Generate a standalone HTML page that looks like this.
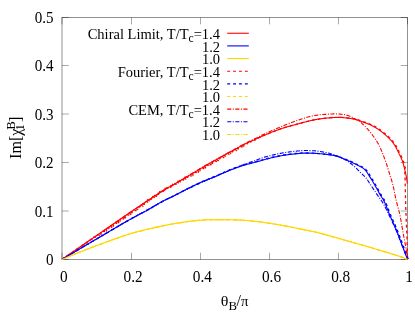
<!DOCTYPE html>
<html><head><meta charset="utf-8"><title>chart</title>
<style>html,body{margin:0;padding:0;background:#fff;}body{width:415px;height:312px;overflow:hidden;position:relative;font-family:"Liberation Serif",serif;}</style>
</head><body>
<svg width="415" height="312" viewBox="0 0 415 312" style="position:absolute;left:0;top:0;will-change:transform">
<rect x="0" y="0" width="415" height="312" fill="#fff"/>
<g stroke="#000" stroke-width="0.5" fill="none">
<rect x="62.0" y="17.5" width="345.5" height="242.0" stroke-opacity="0.85"/>
<path d="M62.0,259.50 h6.8 M407.5,259.50 h-6.8" stroke-opacity="0.68"/>
<path d="M62.00,259.5 v-6.8 M62.00,17.5 v6.8" stroke-opacity="0.68"/>
<path d="M62.0,211.00 h6.8 M407.5,211.00 h-6.8" stroke-opacity="0.68"/>
<path d="M131.50,259.5 v-6.8 M131.50,17.5 v6.8" stroke-opacity="0.68"/>
<path d="M62.0,162.50 h6.8 M407.5,162.50 h-6.8" stroke-opacity="0.68"/>
<path d="M200.50,259.5 v-6.8 M200.50,17.5 v6.8" stroke-opacity="0.68"/>
<path d="M62.0,114.00 h6.8 M407.5,114.00 h-6.8" stroke-opacity="0.68"/>
<path d="M269.50,259.5 v-6.8 M269.50,17.5 v6.8" stroke-opacity="0.68"/>
<path d="M62.0,65.50 h6.8 M407.5,65.50 h-6.8" stroke-opacity="0.68"/>
<path d="M338.50,259.5 v-6.8 M338.50,17.5 v6.8" stroke-opacity="0.68"/>
<path d="M62.0,17.50 h6.8 M407.5,17.50 h-6.8" stroke-opacity="0.68"/>
<path d="M407.50,259.5 v-6.8 M407.50,17.5 v6.8" stroke-opacity="0.68"/>
</g>
<g fill="none" stroke-width="1.1" stroke-linejoin="round">
<path d="M62.00,259.40 L62.23,259.24 L62.46,259.08 L62.69,258.92 L62.92,258.76 L63.15,258.61 L63.39,258.45 L63.62,258.29 L63.85,258.13 L64.08,257.97 L64.31,257.81 L64.54,257.65 L64.77,257.49 L65.00,257.33 L65.23,257.17 L65.46,257.01 L65.69,256.86 L65.93,256.70 L66.16,256.54 L66.39,256.38 L66.62,256.22 L66.85,256.06 L67.08,255.90 L67.31,255.74 L67.54,255.58 L67.77,255.42 L68.00,255.27 L68.23,255.11 L68.47,254.95 L68.70,254.79 L68.93,254.63 L69.16,254.47 L69.39,254.31 L69.62,254.15 L69.85,253.99 L70.08,253.83 L70.31,253.68 L70.54,253.52 L70.77,253.36 L71.00,253.20 L71.24,253.04 L71.47,252.88 L71.70,252.72 L71.93,252.56 L72.16,252.40 L72.39,252.24 L72.62,252.09 L72.85,251.93 L73.08,251.77 L73.31,251.61 L73.54,251.45 L73.78,251.29 L74.01,251.13 L74.24,250.97 L74.47,250.81 L74.70,250.65 L74.93,250.50 L75.16,250.34 L75.39,250.18 L75.62,250.02 L75.85,249.86 L76.08,249.70 L76.32,249.54 L76.55,249.38 L76.78,249.22 L77.01,249.06 L77.24,248.90 L77.47,248.75 L77.70,248.59 L77.93,248.43 L78.16,248.27 L78.39,248.11 L78.62,247.95 L78.85,247.79 L79.09,247.63 L79.32,247.47 L79.55,247.31 L79.78,247.16 L80.01,247.00 L80.24,246.84 L80.47,246.68 L80.70,246.52 L80.93,246.36 L81.16,246.20 L81.39,246.04 L81.63,245.88 L81.86,245.72 L82.09,245.56 L82.32,245.41 L82.55,245.25 L82.78,245.09 L83.01,244.93 L83.24,244.77 L83.47,244.61 L83.70,244.45 L83.93,244.29 L84.16,244.13 L84.40,243.97 L84.63,243.82 L84.86,243.66 L85.09,243.50 L85.32,243.34 L85.55,243.18 L85.78,243.02 L86.01,242.86 L86.24,242.70 L86.47,242.54 L86.70,242.38 L86.94,242.22 L87.17,242.07 L87.40,241.91 L87.63,241.75 L87.86,241.59 L88.09,241.43 L88.32,241.27 L88.55,241.11 L88.78,240.95 L89.01,240.79 L89.24,240.63 L89.47,240.48 L89.71,240.32 L89.94,240.16 L90.17,240.00 L90.40,239.84 L90.63,239.68 L90.86,239.52 L91.09,239.36 L91.32,239.20 L91.55,239.04 L91.78,238.88 L92.01,238.73 L92.24,238.57 L92.48,238.41 L92.71,238.25 L92.94,238.09 L93.17,237.93 L93.40,237.77 L93.63,237.61 L93.86,237.45 L94.09,237.29 L94.32,237.13 L94.55,236.98 L94.78,236.82 L95.02,236.66 L95.25,236.50 L95.48,236.34 L95.71,236.18 L95.94,236.02 L96.17,235.86 L96.40,235.70 L96.63,235.54 L96.86,235.38 L97.09,235.23 L97.32,235.07 L97.55,234.91 L97.79,234.75 L98.02,234.59 L98.25,234.43 L98.48,234.27 L98.71,234.11 L98.94,233.95 L99.17,233.79 L99.40,233.63 L99.63,233.47 L99.86,233.32 L100.09,233.16 L100.32,233.00 L100.55,232.84 L100.78,232.68 L101.02,232.52 L101.25,232.36 L101.48,232.20 L101.71,232.04 L101.94,231.88 L102.17,231.72 L102.40,231.56 L102.63,231.40 L102.86,231.24 L103.09,231.08 L103.32,230.92 L103.55,230.76 L103.78,230.60 L104.01,230.45 L104.24,230.29 L104.47,230.13 L104.70,229.97 L104.93,229.81 L105.17,229.65 L105.40,229.49 L105.63,229.33 L105.86,229.17 L106.09,229.01 L106.32,228.85 L106.55,228.69 L106.78,228.53 L107.01,228.37 L107.24,228.21 L107.47,228.05 L107.70,227.89 L107.93,227.73 L108.16,227.57 L108.39,227.41 L108.62,227.25 L108.85,227.09 L109.08,226.93 L109.31,226.77 L109.54,226.61 L109.77,226.45 L110.00,226.29 L110.23,226.13 L110.46,225.97 L110.70,225.81 L110.93,225.65 L111.16,225.49 L111.39,225.33 L111.62,225.17 L111.85,225.01 L112.08,224.85 L112.31,224.70 L112.54,224.54 L112.77,224.38 L113.00,224.22 L113.23,224.06 L113.46,223.90 L113.69,223.74 L113.92,223.58 L114.15,223.42 L114.38,223.26 L114.61,223.10 L114.84,222.94 L115.07,222.78 L115.30,222.62 L115.53,222.46 L115.76,222.30 L115.99,222.14 L116.22,221.98 L116.46,221.82 L116.69,221.66 L116.92,221.50 L117.15,221.34 L117.38,221.18 L117.61,221.02 L117.84,220.86 L118.07,220.70 L118.30,220.54 L118.53,220.38 L118.76,220.22 L118.99,220.07 L119.22,219.91 L119.45,219.75 L119.68,219.59 L119.91,219.43 L120.14,219.27 L120.37,219.11 L120.61,218.95 L120.84,218.79 L121.07,218.63 L121.30,218.47 L121.53,218.31 L121.76,218.15 L121.99,217.99 L122.22,217.83 L122.45,217.67 L122.68,217.52 L122.91,217.36 L123.14,217.20 L123.37,217.04 L123.61,216.88 L123.84,216.72 L124.07,216.56 L124.30,216.40 L124.53,216.24 L124.76,216.08 L124.99,215.93 L125.22,215.77 L125.45,215.61 L125.68,215.45 L125.91,215.29 L126.15,215.13 L126.38,214.97 L126.61,214.81 L126.84,214.66 L127.07,214.50 L127.30,214.34 L127.53,214.18 L127.76,214.02 L127.99,213.86 L128.23,213.70 L128.46,213.55 L128.69,213.39 L128.92,213.23 L129.15,213.07 L129.38,212.91 L129.61,212.75 L129.85,212.60 L130.08,212.44 L130.31,212.28 L130.54,212.12 L130.77,211.96 L131.00,211.81 L131.23,211.65 L131.47,211.49 L131.70,211.33 L131.93,211.17 L132.16,211.02 L132.39,210.86 L132.62,210.70 L132.86,210.54 L133.09,210.38 L133.32,210.23 L133.55,210.07 L133.78,209.91 L134.02,209.75 L134.25,209.60 L134.48,209.44 L134.71,209.28 L134.94,209.13 L135.18,208.97 L135.41,208.81 L135.64,208.65 L135.87,208.50 L136.11,208.34 L136.34,208.18 L136.57,208.03 L136.80,207.87 L137.04,207.71 L137.27,207.56 L137.50,207.40 L137.73,207.25 L137.97,207.09 L138.20,206.93 L138.43,206.78 L138.67,206.62 L138.90,206.46 L139.13,206.31 L139.36,206.15 L139.60,206.00 L139.83,205.84 L140.06,205.69 L140.30,205.53 L140.53,205.37 L140.76,205.22 L141.00,205.06 L141.23,204.91 L141.46,204.75 L141.70,204.60 L141.93,204.44 L142.16,204.29 L142.40,204.13 L142.63,203.97 L142.86,203.82 L143.10,203.66 L143.33,203.51 L143.56,203.35 L143.80,203.20 L144.03,203.04 L144.26,202.89 L144.49,202.73 L144.73,202.57 L144.96,202.42 L145.19,202.26 L145.43,202.11 L145.66,201.95 L145.89,201.80 L146.13,201.64 L146.36,201.48 L146.59,201.33 L146.83,201.17 L147.06,201.02 L147.29,200.86 L147.53,200.71 L147.76,200.55 L147.99,200.39 L148.23,200.24 L148.46,200.08 L148.69,199.93 L148.92,199.77 L149.16,199.62 L149.39,199.46 L149.62,199.31 L149.86,199.15 L150.09,198.99 L150.32,198.84 L150.56,198.68 L150.79,198.53 L151.02,198.37 L151.26,198.22 L151.49,198.06 L151.72,197.91 L151.96,197.75 L152.19,197.60 L152.43,197.44 L152.66,197.29 L152.89,197.13 L153.13,196.98 L153.36,196.82 L153.59,196.67 L153.83,196.51 L154.06,196.36 L154.30,196.20 L154.53,196.05 L154.76,195.89 L155.00,195.74 L155.23,195.58 L155.46,195.43 L155.70,195.27 L155.93,195.11 L156.16,194.96 L156.39,194.80 L156.63,194.64 L156.86,194.49 L157.09,194.33 L157.32,194.17 L157.56,194.01 L157.79,193.86 L158.02,193.70 L158.25,193.54 L158.49,193.39 L158.72,193.23 L158.95,193.07 L159.19,192.92 L159.42,192.76 L159.65,192.61 L159.89,192.45 L160.12,192.30 L160.35,192.14 L160.59,191.99 L160.82,191.83 L161.06,191.68 L161.29,191.53 L161.53,191.38 L161.77,191.23 L162.00,191.08 L162.24,190.93 L162.47,190.78 L162.71,190.63 L162.95,190.48 L163.19,190.33 L163.43,190.19 L163.67,190.04 L163.91,189.90 L164.15,189.75 L164.39,189.61 L164.63,189.47 L164.87,189.33 L165.11,189.19 L165.35,189.05 L165.60,188.91 L165.84,188.77 L166.09,188.64 L166.33,188.50 L166.58,188.36 L166.82,188.23 L167.07,188.09 L167.31,187.96 L167.56,187.83 L167.81,187.69 L168.05,187.56 L168.30,187.43 L168.55,187.29 L168.79,187.16 L169.04,187.03 L169.29,186.90 L169.54,186.77 L169.79,186.63 L170.03,186.50 L170.28,186.37 L170.53,186.24 L170.78,186.11 L171.02,185.98 L171.27,185.84 L171.52,185.71 L171.77,185.58 L172.01,185.45 L172.26,185.31 L172.51,185.18 L172.76,185.05 L173.00,184.91 L173.25,184.78 L173.49,184.64 L173.74,184.51 L173.99,184.37 L174.23,184.24 L174.47,184.10 L174.72,183.96 L174.96,183.82 L175.21,183.68 L175.45,183.54 L175.69,183.40 L175.93,183.26 L176.18,183.12 L176.42,182.98 L176.66,182.84 L176.90,182.70 L177.14,182.56 L177.39,182.41 L177.63,182.27 L177.87,182.13 L178.11,181.99 L178.35,181.84 L178.59,181.70 L178.83,181.56 L179.07,181.41 L179.31,181.27 L179.55,181.12 L179.79,180.98 L180.04,180.84 L180.28,180.69 L180.52,180.55 L180.76,180.40 L181.00,180.26 L181.24,180.11 L181.48,179.97 L181.72,179.82 L181.96,179.68 L182.20,179.54 L182.44,179.39 L182.68,179.25 L182.92,179.10 L183.16,178.96 L183.40,178.81 L183.64,178.67 L183.88,178.53 L184.12,178.38 L184.36,178.24 L184.60,178.10 L184.85,177.95 L185.09,177.81 L185.33,177.67 L185.57,177.53 L185.81,177.38 L186.05,177.24 L186.29,177.10 L186.53,176.95 L186.78,176.81 L187.02,176.67 L187.26,176.53 L187.50,176.38 L187.74,176.24 L187.98,176.10 L188.22,175.95 L188.46,175.81 L188.71,175.67 L188.95,175.53 L189.19,175.38 L189.43,175.24 L189.67,175.10 L189.91,174.95 L190.15,174.81 L190.39,174.67 L190.64,174.53 L190.88,174.38 L191.12,174.24 L191.36,174.10 L191.60,173.95 L191.84,173.81 L192.08,173.67 L192.32,173.53 L192.56,173.38 L192.81,173.24 L193.05,173.10 L193.29,172.95 L193.53,172.81 L193.77,172.67 L194.01,172.52 L194.25,172.38 L194.49,172.24 L194.73,172.09 L194.97,171.95 L195.21,171.80 L195.45,171.66 L195.69,171.51 L195.94,171.37 L196.18,171.23 L196.42,171.08 L196.66,170.94 L196.90,170.79 L197.14,170.65 L197.38,170.50 L197.62,170.36 L197.86,170.21 L198.10,170.07 L198.34,169.92 L198.58,169.78 L198.82,169.63 L199.06,169.49 L199.30,169.34 L199.54,169.20 L199.78,169.05 L200.02,168.91 L200.26,168.76 L200.50,168.62 L200.74,168.47 L200.98,168.33 L201.22,168.19 L201.46,168.04 L201.70,167.90 L201.94,167.76 L202.18,167.61 L202.42,167.47 L202.66,167.33 L202.90,167.18 L203.15,167.04 L203.39,166.90 L203.63,166.76 L203.87,166.62 L204.11,166.48 L204.36,166.33 L204.60,166.19 L204.84,166.05 L205.08,165.91 L205.33,165.77 L205.57,165.63 L205.81,165.49 L206.06,165.35 L206.30,165.21 L206.54,165.08 L206.79,164.94 L207.03,164.80 L207.27,164.66 L207.52,164.52 L207.76,164.38 L208.00,164.24 L208.25,164.10 L208.49,163.97 L208.74,163.83 L208.98,163.69 L209.22,163.55 L209.47,163.41 L209.71,163.28 L209.96,163.14 L210.20,163.00 L210.45,162.86 L210.69,162.73 L210.93,162.59 L211.18,162.45 L211.42,162.31 L211.67,162.18 L211.91,162.04 L212.16,161.90 L212.40,161.76 L212.64,161.63 L212.89,161.49 L213.13,161.35 L213.38,161.21 L213.62,161.08 L213.87,160.94 L214.11,160.80 L214.35,160.66 L214.60,160.53 L214.84,160.39 L215.09,160.25 L215.33,160.11 L215.58,159.97 L215.82,159.84 L216.06,159.70 L216.31,159.56 L216.55,159.42 L216.79,159.28 L217.04,159.14 L217.28,159.01 L217.53,158.87 L217.77,158.73 L218.01,158.59 L218.26,158.45 L218.50,158.31 L218.74,158.17 L218.99,158.04 L219.23,157.90 L219.48,157.76 L219.72,157.62 L219.96,157.48 L220.21,157.34 L220.45,157.21 L220.70,157.07 L220.94,156.93 L221.18,156.79 L221.43,156.66 L221.67,156.52 L221.92,156.38 L222.16,156.25 L222.41,156.11 L222.65,155.97 L222.90,155.84 L223.14,155.70 L223.39,155.56 L223.63,155.43 L223.88,155.29 L224.13,155.16 L224.37,155.02 L224.62,154.89 L224.86,154.76 L225.11,154.62 L225.36,154.49 L225.60,154.36 L225.85,154.23 L226.10,154.09 L226.35,153.96 L226.59,153.83 L226.84,153.70 L227.09,153.57 L227.34,153.44 L227.58,153.31 L227.83,153.18 L228.08,153.04 L228.33,152.91 L228.58,152.78 L228.83,152.65 L229.07,152.52 L229.32,152.39 L229.57,152.26 L229.82,152.13 L230.07,152.00 L230.32,151.87 L230.56,151.74 L230.81,151.61 L231.06,151.48 L231.31,151.35 L231.56,151.22 L231.81,151.09 L232.05,150.96 L232.30,150.83 L232.55,150.70 L232.80,150.57 L233.04,150.44 L233.29,150.30 L233.54,150.17 L233.79,150.04 L234.03,149.91 L234.28,149.77 L234.52,149.64 L234.77,149.50 L235.02,149.37 L235.26,149.23 L235.51,149.10 L235.75,148.96 L236.00,148.83 L236.24,148.69 L236.49,148.55 L236.73,148.42 L236.98,148.28 L237.23,148.14 L237.47,148.01 L237.72,147.87 L237.96,147.74 L238.21,147.60 L238.45,147.46 L238.70,147.33 L238.94,147.19 L239.19,147.06 L239.43,146.92 L239.68,146.78 L239.92,146.65 L240.17,146.52 L240.42,146.38 L240.66,146.25 L240.91,146.11 L241.16,145.98 L241.40,145.85 L241.65,145.72 L241.90,145.58 L242.15,145.45 L242.39,145.32 L242.64,145.19 L242.89,145.06 L243.14,144.94 L243.39,144.81 L243.64,144.68 L243.89,144.56 L244.14,144.43 L244.39,144.31 L244.64,144.18 L244.89,144.06 L245.14,143.94 L245.40,143.81 L245.65,143.69 L245.90,143.57 L246.15,143.45 L246.41,143.33 L246.66,143.21 L246.91,143.09 L247.17,142.97 L247.42,142.85 L247.67,142.73 L247.93,142.61 L248.18,142.49 L248.44,142.38 L248.69,142.26 L248.95,142.14 L249.20,142.03 L249.46,141.91 L249.71,141.79 L249.97,141.68 L250.22,141.56 L250.48,141.44 L250.73,141.33 L250.99,141.21 L251.24,141.10 L251.50,140.98 L251.76,140.87 L252.01,140.75 L252.27,140.64 L252.52,140.52 L252.78,140.41 L253.03,140.29 L253.29,140.17 L253.55,140.06 L253.80,139.94 L254.06,139.83 L254.31,139.71 L254.57,139.60 L254.82,139.48 L255.08,139.36 L255.33,139.25 L255.59,139.13 L255.84,139.02 L256.10,138.90 L256.35,138.78 L256.61,138.67 L256.86,138.55 L257.12,138.43 L257.37,138.32 L257.63,138.20 L257.88,138.08 L258.14,137.97 L258.39,137.85 L258.65,137.73 L258.90,137.62 L259.16,137.50 L259.41,137.39 L259.67,137.27 L259.93,137.16 L260.18,137.04 L260.44,136.92 L260.69,136.81 L260.95,136.70 L261.20,136.58 L261.46,136.47 L261.72,136.35 L261.97,136.24 L262.23,136.13 L262.49,136.01 L262.74,135.90 L263.00,135.79 L263.26,135.68 L263.51,135.57 L263.77,135.45 L264.03,135.34 L264.29,135.23 L264.54,135.12 L264.80,135.01 L265.06,134.91 L265.32,134.80 L265.58,134.69 L265.84,134.58 L266.09,134.47 L266.35,134.36 L266.61,134.26 L266.87,134.15 L267.13,134.04 L267.39,133.93 L267.65,133.83 L267.91,133.72 L268.17,133.61 L268.43,133.51 L268.69,133.40 L268.95,133.30 L269.21,133.19 L269.47,133.09 L269.73,132.98 L269.99,132.88 L270.25,132.77 L270.51,132.67 L270.77,132.57 L271.03,132.46 L271.29,132.36 L271.55,132.26 L271.81,132.15 L272.07,132.05 L272.33,131.95 L272.60,131.85 L272.86,131.75 L273.12,131.65 L273.38,131.55 L273.64,131.45 L273.90,131.35 L274.17,131.25 L274.43,131.15 L274.69,131.05 L274.95,130.95 L275.22,130.86 L275.48,130.76 L275.74,130.66 L276.00,130.56 L276.27,130.46 L276.53,130.36 L276.79,130.27 L277.06,130.17 L277.32,130.07 L277.58,129.98 L277.85,129.88 L278.11,129.78 L278.37,129.69 L278.64,129.59 L278.90,129.50 L279.16,129.40 L279.43,129.31 L279.69,129.21 L279.96,129.12 L280.22,129.03 L280.49,128.93 L280.75,128.84 L281.02,128.75 L281.28,128.66 L281.55,128.57 L281.81,128.48 L282.08,128.39 L282.35,128.30 L282.61,128.21 L282.88,128.13 L283.14,128.04 L283.41,127.95 L283.68,127.87 L283.94,127.79 L284.21,127.70 L284.48,127.62 L284.75,127.54 L285.01,127.46 L285.28,127.38 L285.55,127.30 L285.82,127.22 L286.09,127.14 L286.36,127.06 L286.63,126.98 L286.90,126.90 L287.17,126.83 L287.44,126.75 L287.71,126.68 L287.98,126.60 L288.25,126.52 L288.52,126.45 L288.79,126.37 L289.06,126.30 L289.33,126.23 L289.60,126.15 L289.87,126.08 L290.14,126.01 L290.41,125.93 L290.68,125.86 L290.95,125.79 L291.22,125.71 L291.49,125.64 L291.76,125.57 L292.04,125.50 L292.31,125.42 L292.58,125.35 L292.85,125.28 L293.12,125.21 L293.39,125.13 L293.66,125.06 L293.93,124.99 L294.20,124.92 L294.47,124.84 L294.74,124.77 L295.02,124.70 L295.29,124.62 L295.56,124.55 L295.83,124.48 L296.10,124.40 L296.37,124.33 L296.64,124.26 L296.91,124.18 L297.18,124.11 L297.45,124.04 L297.72,123.96 L297.99,123.89 L298.26,123.82 L298.53,123.74 L298.80,123.67 L299.08,123.60 L299.35,123.53 L299.62,123.46 L299.89,123.38 L300.16,123.31 L300.43,123.24 L300.70,123.17 L300.97,123.10 L301.24,123.03 L301.52,122.95 L301.79,122.88 L302.06,122.81 L302.33,122.74 L302.60,122.67 L302.87,122.60 L303.14,122.53 L303.41,122.46 L303.69,122.39 L303.96,122.32 L304.23,122.25 L304.50,122.19 L304.77,122.12 L305.04,122.05 L305.32,121.98 L305.59,121.91 L305.86,121.84 L306.13,121.77 L306.40,121.70 L306.68,121.63 L306.95,121.56 L307.22,121.49 L307.49,121.41 L307.76,121.34 L308.03,121.27 L308.31,121.20 L308.58,121.13 L308.85,121.06 L309.12,120.99 L309.39,120.93 L309.67,120.86 L309.94,120.79 L310.21,120.72 L310.48,120.66 L310.76,120.59 L311.03,120.52 L311.30,120.46 L311.57,120.40 L311.85,120.33 L312.12,120.27 L312.39,120.21 L312.67,120.15 L312.94,120.10 L313.22,120.04 L313.49,119.98 L313.76,119.93 L314.04,119.88 L314.31,119.82 L314.59,119.77 L314.86,119.72 L315.14,119.67 L315.42,119.63 L315.69,119.58 L315.97,119.53 L316.24,119.48 L316.52,119.43 L316.80,119.39 L317.07,119.34 L317.35,119.29 L317.63,119.25 L317.90,119.20 L318.18,119.16 L318.46,119.12 L318.74,119.07 L319.01,119.03 L319.29,118.99 L319.57,118.95 L319.85,118.91 L320.12,118.87 L320.40,118.83 L320.68,118.79 L320.96,118.75 L321.24,118.71 L321.51,118.68 L321.79,118.64 L322.07,118.61 L322.35,118.57 L322.63,118.54 L322.91,118.51 L323.18,118.47 L323.46,118.44 L323.74,118.41 L324.02,118.38 L324.30,118.35 L324.58,118.32 L324.85,118.29 L325.13,118.27 L325.41,118.24 L325.69,118.21 L325.97,118.18 L326.25,118.15 L326.53,118.12 L326.81,118.09 L327.09,118.06 L327.37,118.04 L327.64,118.01 L327.92,117.98 L328.20,117.96 L328.48,117.93 L328.76,117.90 L329.04,117.88 L329.32,117.85 L329.60,117.83 L329.88,117.81 L330.16,117.78 L330.44,117.76 L330.72,117.74 L331.00,117.72 L331.28,117.70 L331.56,117.68 L331.84,117.66 L332.12,117.64 L332.40,117.62 L332.68,117.60 L332.96,117.59 L333.24,117.57 L333.52,117.56 L333.80,117.55 L334.08,117.53 L334.36,117.52 L334.64,117.51 L334.92,117.50 L335.20,117.49 L335.48,117.49 L335.76,117.48 L336.04,117.47 L336.32,117.46 L336.60,117.45 L336.88,117.45 L337.16,117.44 L337.44,117.43 L337.72,117.43 L338.00,117.42 L338.28,117.42 L338.56,117.41 L338.84,117.41 L339.12,117.40 L339.40,117.40 L339.68,117.40 L339.96,117.40 L340.24,117.40 L340.52,117.41 L340.80,117.42 L341.08,117.44 L341.36,117.45 L341.64,117.48 L341.92,117.50 L342.20,117.53 L342.48,117.56 L342.76,117.59 L343.04,117.62 L343.32,117.65 L343.60,117.69 L343.88,117.72 L344.15,117.75 L344.43,117.78 L344.71,117.81 L344.99,117.84 L345.27,117.87 L345.55,117.90 L345.83,117.93 L346.11,117.96 L346.39,117.99 L346.67,118.02 L346.95,118.06 L347.23,118.09 L347.50,118.12 L347.78,118.15 L348.06,118.19 L348.34,118.22 L348.62,118.26 L348.90,118.29 L349.18,118.33 L349.46,118.37 L349.74,118.40 L350.02,118.44 L350.30,118.48 L350.58,118.52 L350.85,118.56 L351.13,118.60 L351.41,118.65 L351.69,118.69 L351.96,118.73 L352.24,118.78 L352.52,118.83 L352.79,118.87 L353.07,118.92 L353.34,118.97 L353.62,119.02 L353.89,119.08 L354.16,119.13 L354.43,119.18 L354.71,119.24 L354.98,119.30 L355.25,119.36 L355.52,119.42 L355.79,119.49 L356.05,119.57 L356.32,119.65 L356.59,119.74 L356.85,119.83 L357.12,119.92 L357.39,120.01 L357.65,120.11 L357.91,120.21 L358.18,120.31 L358.44,120.41 L358.71,120.51 L358.97,120.60 L359.24,120.70 L359.50,120.80 L359.77,120.89 L360.03,120.98 L360.30,121.07 L360.56,121.16 L360.83,121.25 L361.09,121.35 L361.36,121.44 L361.62,121.53 L361.89,121.62 L362.15,121.72 L362.41,121.81 L362.68,121.90 L362.94,122.00 L363.21,122.09 L363.47,122.19 L363.73,122.28 L364.00,122.38 L364.26,122.47 L364.52,122.57 L364.79,122.67 L365.05,122.77 L365.31,122.86 L365.58,122.96 L365.84,123.06 L366.10,123.15 L366.37,123.25 L366.63,123.35 L366.89,123.45 L367.15,123.55 L367.42,123.65 L367.68,123.75 L367.94,123.85 L368.20,123.96 L368.46,124.06 L368.72,124.17 L368.98,124.28 L369.23,124.38 L369.49,124.50 L369.75,124.61 L370.00,124.72 L370.26,124.84 L370.51,124.96 L370.76,125.08 L371.02,125.20 L371.27,125.32 L371.52,125.44 L371.78,125.57 L372.03,125.69 L372.28,125.82 L372.53,125.95 L372.78,126.08 L373.02,126.21 L373.27,126.34 L373.52,126.47 L373.77,126.61 L374.01,126.74 L374.26,126.88 L374.50,127.01 L374.74,127.15 L374.99,127.29 L375.23,127.43 L375.47,127.57 L375.71,127.71 L375.95,127.86 L376.19,128.01 L376.43,128.15 L376.67,128.30 L376.91,128.45 L377.15,128.60 L377.38,128.75 L377.62,128.91 L377.85,129.06 L378.09,129.21 L378.32,129.37 L378.55,129.53 L378.78,129.68 L379.01,129.84 L379.24,130.00 L379.47,130.16 L379.70,130.32 L379.93,130.49 L380.16,130.65 L380.38,130.82 L380.61,130.98 L380.83,131.15 L381.06,131.32 L381.28,131.49 L381.50,131.66 L381.72,131.84 L381.95,132.01 L382.17,132.18 L382.39,132.36 L382.60,132.53 L382.82,132.71 L383.04,132.89 L383.26,133.07 L383.47,133.24 L383.69,133.42 L383.90,133.60 L384.12,133.78 L384.33,133.96 L384.54,134.15 L384.75,134.33 L384.97,134.51 L385.18,134.70 L385.39,134.88 L385.60,135.07 L385.80,135.26 L386.01,135.45 L386.22,135.64 L386.43,135.83 L386.63,136.02 L386.84,136.21 L387.04,136.40 L387.25,136.59 L387.45,136.79 L387.65,136.98 L387.86,137.18 L388.06,137.37 L388.26,137.57 L388.46,137.76 L388.66,137.96 L388.86,138.15 L389.06,138.35 L389.25,138.55 L389.45,138.75 L389.65,138.95 L389.85,139.15 L390.05,139.35 L390.24,139.55 L390.44,139.75 L390.63,139.95 L390.83,140.16 L391.02,140.36 L391.21,140.57 L391.39,140.78 L391.58,140.99 L391.76,141.20 L391.94,141.41 L392.12,141.63 L392.30,141.84 L392.47,142.06 L392.65,142.28 L392.82,142.50 L392.99,142.73 L393.16,142.95 L393.33,143.18 L393.49,143.41 L393.66,143.64 L393.82,143.87 L393.97,144.10 L394.13,144.33 L394.28,144.57 L394.43,144.80 L394.57,145.04 L394.72,145.28 L394.86,145.51 L395.01,145.75 L395.15,146.00 L395.29,146.24 L395.42,146.48 L395.56,146.73 L395.70,146.97 L395.83,147.22 L395.97,147.46 L396.10,147.71 L396.23,147.96 L396.36,148.21 L396.49,148.46 L396.62,148.71 L396.75,148.96 L396.88,149.21 L397.01,149.46 L397.13,149.71 L397.26,149.96 L397.38,150.21 L397.51,150.47 L397.63,150.72 L397.76,150.97 L397.88,151.22 L398.00,151.48 L398.13,151.73 L398.25,151.98 L398.37,152.23 L398.49,152.48 L398.62,152.74 L398.74,152.99 L398.86,153.24 L398.99,153.49 L399.11,153.74 L399.23,154.00 L399.36,154.25 L399.48,154.50 L399.61,154.75 L399.73,155.01 L399.85,155.26 L399.98,155.51 L400.10,155.77 L400.22,156.02 L400.34,156.27 L400.46,156.53 L400.58,156.78 L400.70,157.04 L400.82,157.29 L400.94,157.55 L401.05,157.80 L401.17,158.06 L401.28,158.32 L401.39,158.57 L401.50,158.83 L401.61,159.09 L401.72,159.35 L401.83,159.61 L401.93,159.87 L402.03,160.13 L402.13,160.39 L402.23,160.65 L402.33,160.91 L402.42,161.17 L402.51,161.44 L402.60,161.70 L402.69,161.96 L402.78,162.23 L402.86,162.49 L402.94,162.76 L403.03,163.03 L403.11,163.30 L403.19,163.57 L403.26,163.84 L403.34,164.11 L403.42,164.38 L403.49,164.65 L403.57,164.92 L403.64,165.19 L403.71,165.46 L403.78,165.73 L403.86,166.00 L403.93,166.28 L404.00,166.55 L404.07,166.82 L404.14,167.09 L404.21,167.37 L404.28,167.64 L404.35,167.91 L404.42,168.18 L404.49,168.45 L404.56,168.72 L404.63,168.99 L404.70,169.26 L404.78,169.54 L404.85,169.81 L404.92,170.08 L404.99,170.35 L405.06,170.62 L405.12,170.90 L405.19,171.17 L405.26,171.44 L405.32,171.71 L405.39,171.99 L405.45,172.26 L405.51,172.53 L405.57,172.81 L405.63,173.08 L405.69,173.35 L405.75,173.63 L405.80,173.90 L405.85,174.18 L405.91,174.45 L405.96,174.73 L406.01,175.00 L406.06,175.28 L406.11,175.55 L406.16,175.83 L406.21,176.10 L406.26,176.38 L406.31,176.66 L406.36,176.93 L406.40,177.21 L406.45,177.48 L406.50,177.76 L406.54,178.04 L406.59,178.31 L406.63,178.59 L406.68,178.87 L406.72,179.14 L406.76,179.42 L406.81,179.70 L406.85,179.98 L406.89,180.25 L406.93,180.53 L406.96,180.81 L407.00,181.09 L407.04,181.37 L407.08,181.65 L407.11,181.92 L407.14,182.20 L407.18,182.48 L407.21,182.76 L407.24,183.04 L407.27,183.32 L407.30,183.60" stroke="#ff0000"/>
<path d="M62.00,259.40 L62.74,258.96 L63.48,258.51 L64.22,258.07 L64.96,257.63 L65.70,257.19 L66.44,256.74 L67.19,256.30 L67.93,255.86 L68.67,255.42 L69.41,254.98 L70.15,254.54 L70.89,254.09 L71.63,253.65 L72.38,253.21 L73.12,252.77 L73.86,252.33 L74.60,251.89 L75.34,251.45 L76.09,251.01 L76.83,250.57 L77.57,250.13 L78.31,249.69 L79.06,249.25 L79.80,248.81 L80.54,248.37 L81.28,247.93 L82.03,247.49 L82.77,247.05 L83.51,246.61 L84.26,246.18 L85.00,245.74 L85.74,245.30 L86.49,244.86 L87.23,244.42 L87.97,243.98 L88.72,243.55 L89.46,243.11 L90.20,242.67 L90.95,242.23 L91.69,241.80 L92.44,241.36 L93.18,240.92 L93.93,240.49 L94.67,240.05 L95.41,239.61 L96.16,239.18 L96.90,238.74 L97.65,238.31 L98.39,237.87 L99.14,237.43 L99.88,237.00 L100.63,236.56 L101.37,236.12 L102.11,235.69 L102.86,235.25 L103.60,234.81 L104.35,234.37 L105.09,233.93 L105.83,233.49 L106.58,233.06 L107.32,232.62 L108.06,232.18 L108.81,231.74 L109.55,231.30 L110.29,230.86 L111.04,230.42 L111.78,229.99 L112.52,229.55 L113.27,229.11 L114.01,228.67 L114.76,228.24 L115.50,227.80 L116.25,227.36 L116.99,226.93 L117.74,226.49 L118.48,226.06 L119.23,225.62 L119.98,225.19 L120.72,224.76 L121.47,224.32 L122.22,223.89 L122.96,223.46 L123.71,223.03 L124.46,222.60 L125.21,222.17 L125.96,221.75 L126.71,221.32 L127.46,220.90 L128.21,220.47 L128.96,220.05 L129.71,219.62 L130.47,219.20 L131.22,218.78 L131.97,218.36 L132.73,217.95 L133.48,217.53 L134.24,217.12 L135.00,216.70 L135.76,216.29 L136.52,215.89 L137.28,215.49 L138.05,215.09 L138.82,214.69 L139.59,214.30 L140.36,213.91 L141.13,213.52 L141.89,213.13 L142.66,212.73 L143.43,212.34 L144.20,211.94 L144.96,211.54 L145.72,211.13 L146.48,210.72 L147.23,210.30 L147.98,209.88 L148.73,209.44 L149.47,209.00 L150.20,208.55 L150.94,208.09 L151.67,207.64 L152.41,207.19 L153.15,206.74 L153.89,206.29 L154.63,205.86 L155.37,205.42 L156.12,204.98 L156.86,204.55 L157.61,204.11 L158.35,203.68 L159.10,203.24 L159.85,202.81 L160.60,202.39 L161.36,201.97 L162.11,201.55 L162.87,201.14 L163.63,200.74 L164.40,200.34 L165.17,199.96 L165.94,199.58 L166.72,199.20 L167.50,198.83 L168.28,198.47 L169.06,198.11 L169.85,197.74 L170.63,197.38 L171.42,197.02 L172.20,196.66 L172.98,196.29 L173.76,195.91 L174.53,195.53 L175.30,195.15 L176.07,194.75 L176.84,194.35 L177.60,193.95 L178.36,193.54 L179.12,193.13 L179.88,192.72 L180.64,192.31 L181.40,191.90 L182.16,191.49 L182.92,191.08 L183.68,190.68 L184.45,190.28 L185.21,189.89 L185.98,189.49 L186.75,189.10 L187.52,188.72 L188.29,188.33 L189.07,187.95 L189.84,187.56 L190.62,187.18 L191.39,186.80 L192.17,186.42 L192.94,186.05 L193.72,185.68 L194.50,185.30 L195.28,184.93 L196.06,184.56 L196.84,184.19 L197.62,183.82 L198.40,183.46 L199.18,183.09 L199.97,182.73 L200.75,182.37 L201.54,182.02 L202.33,181.67 L203.12,181.33 L203.92,180.99 L204.71,180.67 L205.51,180.35 L206.32,180.03 L207.12,179.73 L207.93,179.43 L208.74,179.13 L209.55,178.83 L210.36,178.53 L211.17,178.23 L211.98,177.93 L212.79,177.62 L213.60,177.31 L214.40,176.99 L215.20,176.67 L215.99,176.33 L216.78,175.99 L217.57,175.64 L218.36,175.29 L219.15,174.94 L219.93,174.58 L220.72,174.22 L221.50,173.86 L222.29,173.51 L223.08,173.16 L223.87,172.81 L224.66,172.47 L225.46,172.14 L226.25,171.81 L227.05,171.47 L227.85,171.14 L228.65,170.81 L229.45,170.49 L230.25,170.17 L231.05,169.85 L231.85,169.53 L232.66,169.22 L233.46,168.91 L234.27,168.61 L235.08,168.31 L235.89,168.01 L236.70,167.72 L237.52,167.43 L238.33,167.14 L239.14,166.85 L239.96,166.57 L240.78,166.30 L241.60,166.03 L242.42,165.76 L243.24,165.50 L244.07,165.25 L244.89,165.00 L245.72,164.77 L246.55,164.54 L247.38,164.31 L248.22,164.09 L249.05,163.87 L249.89,163.65 L250.72,163.43 L251.56,163.21 L252.40,163.00 L253.23,162.78 L254.07,162.55 L254.90,162.33 L255.73,162.10 L256.56,161.86 L257.39,161.63 L258.22,161.39 L259.05,161.15 L259.88,160.91 L260.71,160.67 L261.54,160.44 L262.37,160.21 L263.20,159.98 L264.03,159.75 L264.87,159.53 L265.70,159.31 L266.54,159.09 L267.37,158.88 L268.21,158.66 L269.05,158.45 L269.88,158.24 L270.72,158.03 L271.56,157.83 L272.40,157.63 L273.24,157.44 L274.08,157.25 L274.92,157.06 L275.77,156.88 L276.61,156.69 L277.46,156.51 L278.30,156.34 L279.15,156.16 L279.99,155.99 L280.84,155.83 L281.69,155.67 L282.54,155.52 L283.39,155.38 L284.24,155.25 L285.09,155.12 L285.95,154.99 L286.80,154.87 L287.66,154.76 L288.51,154.64 L289.37,154.53 L290.23,154.43 L291.08,154.33 L291.94,154.23 L292.80,154.13 L293.66,154.04 L294.52,153.95 L295.37,153.86 L296.23,153.77 L297.09,153.67 L297.95,153.58 L298.81,153.48 L299.67,153.39 L300.53,153.31 L301.39,153.24 L302.25,153.18 L303.11,153.13 L303.97,153.11 L304.84,153.10 L305.70,153.10 L306.56,153.11 L307.42,153.12 L308.29,153.14 L309.15,153.15 L310.01,153.17 L310.88,153.20 L311.74,153.22 L312.60,153.25 L313.46,153.27 L314.33,153.30 L315.19,153.34 L316.05,153.38 L316.91,153.44 L317.77,153.50 L318.63,153.57 L319.49,153.65 L320.35,153.73 L321.21,153.82 L322.07,153.91 L322.93,154.00 L323.79,154.09 L324.64,154.18 L325.50,154.28 L326.36,154.38 L327.23,154.48 L328.09,154.59 L328.95,154.70 L329.81,154.82 L330.66,154.95 L331.52,155.09 L332.37,155.23 L333.21,155.38 L334.05,155.54 L334.89,155.71 L335.72,155.90 L336.54,156.12 L337.37,156.37 L338.18,156.64 L339.00,156.93 L339.81,157.24 L340.62,157.56 L341.43,157.89 L342.23,158.22 L343.03,158.55 L343.83,158.89 L344.63,159.21 L345.43,159.54 L346.22,159.87 L347.02,160.21 L347.81,160.55 L348.60,160.90 L349.39,161.26 L350.17,161.62 L350.95,161.99 L351.74,162.35 L352.51,162.73 L353.29,163.10 L354.06,163.48 L354.84,163.86 L355.62,164.24 L356.41,164.61 L357.20,164.99 L357.99,165.37 L358.78,165.75 L359.56,166.14 L360.33,166.54 L361.09,166.96 L361.83,167.40 L362.55,167.85 L363.25,168.32 L363.93,168.82 L364.58,169.38 L365.19,170.00 L365.76,170.65 L366.29,171.33 L366.78,172.03 L367.25,172.76 L367.71,173.49 L368.16,174.24 L368.62,174.97 L369.08,175.70 L369.55,176.42 L370.01,177.15 L370.47,177.88 L370.93,178.62 L371.38,179.35 L371.82,180.09 L372.27,180.83 L372.71,181.57 L373.15,182.31 L373.59,183.06 L374.02,183.80 L374.46,184.55 L374.88,185.30 L375.31,186.05 L375.73,186.80 L376.15,187.56 L376.56,188.32 L376.97,189.07 L377.39,189.83 L377.80,190.59 L378.21,191.35 L378.62,192.11 L379.04,192.86 L379.46,193.61 L379.89,194.36 L380.34,195.10 L380.79,195.84 L381.26,196.57 L381.72,197.30 L382.19,198.03 L382.65,198.76 L383.10,199.50 L383.53,200.24 L383.94,201.00 L384.33,201.76 L384.70,202.53 L385.05,203.31 L385.40,204.10 L385.74,204.89 L386.06,205.69 L386.38,206.49 L386.70,207.30 L387.01,208.11 L387.32,208.92 L387.62,209.73 L387.93,210.54 L388.24,211.35 L388.55,212.15 L388.87,212.96 L389.19,213.76 L389.52,214.56 L389.86,215.35 L390.20,216.14 L390.55,216.93 L390.89,217.73 L391.24,218.51 L391.59,219.30 L391.95,220.09 L392.30,220.88 L392.65,221.67 L393.01,222.45 L393.36,223.24 L393.71,224.03 L394.06,224.82 L394.41,225.61 L394.76,226.40 L395.10,227.19 L395.45,227.98 L395.78,228.77 L396.12,229.57 L396.45,230.37 L396.77,231.17 L397.09,231.97 L397.41,232.77 L397.73,233.57 L398.04,234.37 L398.35,235.18 L398.66,235.98 L398.97,236.79 L399.27,237.60 L399.58,238.41 L399.88,239.21 L400.18,240.02 L400.49,240.83 L400.79,241.64 L401.09,242.45 L401.39,243.26 L401.69,244.07 L402.00,244.87 L402.30,245.68 L402.61,246.49 L402.91,247.30 L403.22,248.10 L403.53,248.91 L403.83,249.72 L404.14,250.52 L404.44,251.33 L404.75,252.14 L405.06,252.94 L405.36,253.75 L405.67,254.56 L405.97,255.36 L406.28,256.17 L406.58,256.98 L406.89,257.79 L407.19,258.59 L407.50,259.40" stroke="#0000ff"/>
<path d="M62.00,259.40 L63.16,258.91 L64.31,258.42 L65.47,257.94 L66.62,257.46 L67.78,256.97 L68.93,256.49 L70.09,256.02 L71.24,255.54 L72.40,255.07 L73.56,254.60 L74.71,254.13 L75.87,253.66 L77.02,253.19 L78.18,252.73 L79.33,252.27 L80.49,251.81 L81.64,251.35 L82.80,250.89 L83.95,250.44 L85.11,249.99 L86.27,249.54 L87.42,249.09 L88.58,248.65 L89.73,248.20 L90.89,247.76 L92.04,247.32 L93.20,246.89 L94.35,246.45 L95.51,246.02 L96.67,245.59 L97.82,245.17 L98.98,244.74 L100.13,244.31 L101.29,243.89 L102.44,243.46 L103.60,243.03 L104.75,242.61 L105.91,242.18 L107.07,241.76 L108.22,241.33 L109.38,240.91 L110.53,240.49 L111.69,240.07 L112.84,239.65 L114.00,239.24 L115.15,238.82 L116.31,238.42 L117.46,238.01 L118.62,237.61 L119.78,237.21 L120.93,236.81 L122.09,236.42 L123.24,236.03 L124.40,235.65 L125.55,235.27 L126.71,234.90 L127.86,234.53 L129.02,234.17 L130.18,233.82 L131.33,233.47 L132.49,233.12 L133.64,232.79 L134.80,232.46 L135.95,232.13 L137.11,231.82 L138.26,231.52 L139.42,231.22 L140.58,230.93 L141.73,230.64 L142.89,230.36 L144.04,230.08 L145.20,229.81 L146.35,229.54 L147.51,229.27 L148.66,229.00 L149.82,228.73 L150.97,228.45 L152.13,228.18 L153.29,227.92 L154.44,227.65 L155.60,227.38 L156.75,227.12 L157.91,226.87 L159.06,226.61 L160.22,226.36 L161.37,226.12 L162.53,225.88 L163.69,225.64 L164.84,225.41 L166.00,225.19 L167.15,224.97 L168.31,224.75 L169.46,224.53 L170.62,224.32 L171.77,224.11 L172.93,223.91 L174.09,223.71 L175.24,223.51 L176.40,223.32 L177.55,223.13 L178.71,222.95 L179.86,222.77 L181.02,222.59 L182.17,222.40 L183.33,222.22 L184.48,222.04 L185.64,221.87 L186.80,221.69 L187.95,221.53 L189.11,221.37 L190.26,221.22 L191.42,221.07 L192.57,220.94 L193.73,220.82 L194.88,220.71 L196.04,220.61 L197.20,220.51 L198.35,220.41 L199.51,220.31 L200.66,220.22 L201.82,220.13 L202.97,220.05 L204.13,219.97 L205.28,219.91 L206.44,219.85 L207.60,219.80 L208.75,219.77 L209.91,219.74 L211.06,219.72 L212.22,219.70 L213.37,219.69 L214.53,219.67 L215.68,219.65 L216.84,219.64 L217.99,219.63 L219.15,219.62 L220.31,219.61 L221.46,219.61 L222.62,219.60 L223.77,219.60 L224.93,219.60 L226.08,219.61 L227.24,219.63 L228.39,219.65 L229.55,219.68 L230.71,219.71 L231.86,219.75 L233.02,219.79 L234.17,219.83 L235.33,219.88 L236.48,219.92 L237.64,219.97 L238.79,220.02 L239.95,220.07 L241.11,220.13 L242.26,220.20 L243.42,220.28 L244.57,220.36 L245.73,220.45 L246.88,220.54 L248.04,220.64 L249.19,220.74 L250.35,220.85 L251.51,220.96 L252.66,221.07 L253.82,221.18 L254.97,221.30 L256.13,221.42 L257.28,221.55 L258.44,221.69 L259.59,221.84 L260.75,222.00 L261.90,222.16 L263.06,222.33 L264.22,222.50 L265.37,222.67 L266.53,222.85 L267.68,223.02 L268.84,223.20 L269.99,223.37 L271.15,223.55 L272.30,223.73 L273.46,223.92 L274.62,224.10 L275.77,224.29 L276.93,224.48 L278.08,224.68 L279.24,224.87 L280.39,225.07 L281.55,225.28 L282.70,225.48 L283.86,225.69 L285.02,225.91 L286.17,226.12 L287.33,226.35 L288.48,226.57 L289.64,226.81 L290.79,227.04 L291.95,227.28 L293.10,227.51 L294.26,227.75 L295.41,227.99 L296.57,228.23 L297.73,228.46 L298.88,228.70 L300.04,228.93 L301.19,229.16 L302.35,229.38 L303.50,229.61 L304.66,229.84 L305.81,230.07 L306.97,230.30 L308.13,230.53 L309.28,230.76 L310.44,231.00 L311.59,231.25 L312.75,231.49 L313.90,231.75 L315.06,232.01 L316.21,232.29 L317.37,232.57 L318.53,232.85 L319.68,233.15 L320.84,233.45 L321.99,233.75 L323.15,234.06 L324.30,234.38 L325.46,234.69 L326.61,235.01 L327.77,235.33 L328.92,235.64 L330.08,235.96 L331.24,236.28 L332.39,236.60 L333.55,236.93 L334.70,237.26 L335.86,237.59 L337.01,237.92 L338.17,238.25 L339.32,238.59 L340.48,238.92 L341.64,239.25 L342.79,239.58 L343.95,239.91 L345.10,240.24 L346.26,240.57 L347.41,240.90 L348.57,241.23 L349.72,241.56 L350.88,241.89 L352.04,242.21 L353.19,242.54 L354.35,242.87 L355.50,243.19 L356.66,243.52 L357.81,243.84 L358.97,244.16 L360.12,244.47 L361.28,244.78 L362.43,245.09 L363.59,245.40 L364.75,245.73 L365.90,246.06 L367.06,246.41 L368.21,246.76 L369.37,247.12 L370.52,247.48 L371.68,247.84 L372.83,248.21 L373.99,248.57 L375.15,248.93 L376.30,249.29 L377.46,249.64 L378.61,249.98 L379.77,250.33 L380.92,250.67 L382.08,251.01 L383.23,251.35 L384.39,251.69 L385.55,252.03 L386.70,252.37 L387.86,252.72 L389.01,253.07 L390.17,253.43 L391.32,253.78 L392.48,254.13 L393.63,254.48 L394.79,254.83 L395.94,255.19 L397.10,255.56 L398.26,255.93 L399.41,256.32 L400.57,256.71 L401.72,257.12 L402.88,257.55 L404.03,258.00 L405.19,258.45 L406.34,258.92 L407.50,259.40" stroke="#ffd700"/>
<path d="M62.03,259.45 L62.29,259.33 L62.51,259.15 L62.69,258.92 L62.86,258.67 L63.07,258.49 L63.34,258.38 L63.64,258.32 L63.92,258.24 L64.15,258.08 L64.33,257.85 L64.51,257.61 L64.71,257.41 L64.96,257.27 L65.23,257.17 L65.49,257.05 L65.72,256.90 L65.94,256.72 L66.15,256.54 L66.37,256.36 L66.60,256.20 L66.84,256.05 L67.09,255.91 L67.34,255.78 L67.57,255.63 L67.79,255.45 L67.98,255.23 L68.18,255.02 L68.41,254.87 L68.69,254.78 L68.98,254.70 L69.24,254.59 L69.45,254.40 L69.61,254.14 L69.78,253.90 L70.00,253.72 L70.27,253.62 L70.56,253.55 L70.83,253.44 L71.05,253.27 L71.25,253.06 L71.45,252.86 L71.67,252.68 L71.91,252.54 L72.16,252.40 L72.40,252.26 L72.64,252.11 L72.86,251.95 L73.08,251.76 L73.29,251.58 L73.51,251.40 L73.75,251.26 L74.02,251.15 L74.29,251.05 L74.53,250.90 L74.72,250.69 L74.89,250.44 L75.08,250.22 L75.32,250.08 L75.61,250.01 L75.91,249.94 L76.16,249.82 L76.36,249.61 L76.54,249.37 L76.73,249.15 L76.96,248.99 L77.22,248.87 L77.48,248.76 L77.73,248.63 L77.95,248.46 L78.17,248.28 L78.38,248.10 L78.61,247.93 L78.84,247.77 L79.08,247.63 L79.34,247.50 L79.58,247.36 L79.81,247.19 L80.00,246.99 L80.19,246.77 L80.41,246.59 L80.67,246.47 L80.96,246.40 L81.24,246.32 L81.48,246.16 L81.65,245.92 L81.81,245.66 L82.00,245.44 L82.26,245.32 L82.55,245.25 L82.84,245.17 L83.09,245.04 L83.29,244.84 L83.48,244.62 L83.68,244.42 L83.92,244.27 L84.17,244.14 L84.43,244.02 L84.67,243.88 L84.91,243.73 L85.12,243.55 L85.32,243.34 L85.52,243.14 L85.75,242.98 L86.04,242.91 L86.36,242.88 L86.65,242.80 L86.85,242.59 L86.95,242.25 L87.06,241.91 L87.26,241.70 L87.59,241.69 L87.99,241.79 L88.35,241.80 L88.56,241.62 L88.66,241.28 L88.76,240.91 L88.93,240.68 L89.22,240.60 L89.55,240.59 L89.86,240.54 L90.10,240.40 L90.30,240.19 L90.48,239.96 L90.67,239.75 L90.90,239.57 L91.16,239.46 L91.47,239.42 L91.79,239.39 L92.05,239.27 L92.18,238.97 L92.23,238.54 L92.32,238.18 L92.59,238.08 L93.07,238.28 L93.59,238.54 L93.95,238.56 L94.03,238.19 L93.93,237.55 L93.90,237.01 L94.11,236.83 L94.57,236.99 L95.08,237.25 L95.46,237.31 L95.64,237.07 L95.70,236.66 L95.79,236.30 L95.98,236.09 L96.27,236.01 L96.59,235.98 L96.91,235.95 L97.18,235.85 L97.38,235.64 L97.50,235.32 L97.57,234.94 L97.74,234.68 L98.10,234.71 L98.64,234.99 L99.14,235.24 L99.38,235.09 L99.29,234.46 L99.05,233.62 L99.02,233.08 L99.41,233.15 L100.12,233.69 L100.81,234.20 L101.16,234.21 L101.13,233.67 L100.94,232.90 L100.91,232.36 L101.17,232.25 L101.63,232.43 L102.09,232.60 L102.41,232.57 L102.60,232.34 L102.71,232.02 L102.83,231.69 L102.99,231.43 L103.25,231.31 L103.63,231.37 L104.08,231.53 L104.45,231.57 L104.57,231.25 L104.43,230.55 L104.26,229.81 L104.39,229.51 L104.98,229.87 L105.82,230.60 L106.49,231.06 L106.63,230.78 L106.31,229.83 L105.93,228.78 L105.92,228.27 L106.40,228.48 L107.14,229.05 L107.75,229.43 L108.01,229.33 L108.01,228.82 L107.96,228.26 L108.05,227.90 L108.31,227.79 L108.67,227.81 L109.04,227.85 L109.37,227.84 L109.61,227.69 L109.69,227.32 L109.67,226.80 L109.71,226.36 L110.00,226.29 L110.61,226.68 L111.32,227.20 L111.75,227.33 L111.68,226.74 L111.27,225.66 L110.97,224.73 L111.17,224.53 L111.90,225.09 L112.80,225.90 L113.39,226.25 L113.45,225.86 L113.19,224.99 L112.99,224.20 L113.11,223.89 L113.54,224.01 L114.06,224.26 L114.46,224.35 L114.69,224.20 L114.82,223.88 L114.90,223.52 L115.02,223.19 L115.21,222.98 L115.56,222.99 L116.04,223.18 L116.50,223.36 L116.73,223.20 L116.63,222.57 L116.37,221.70 L116.31,221.12 L116.73,221.24 L117.57,221.95 L118.40,222.66 L118.79,222.72 L118.60,221.97 L118.16,220.84 L117.95,220.04 L118.23,219.96 L118.91,220.44 L119.60,220.95 L120.01,221.05 L120.10,220.68 L120.06,220.13 L120.09,219.68 L120.28,219.46 L120.60,219.43 L120.97,219.47 L121.33,219.50 L121.62,219.43 L121.77,219.15 L121.76,218.65 L121.73,218.11 L121.89,217.86 L122.40,218.09 L123.12,218.65 L123.72,219.02 L123.87,218.74 L123.55,217.79 L123.14,216.70 L123.09,216.14 L123.63,216.42 L124.51,217.20 L125.26,217.80 L125.55,217.72 L125.40,217.01 L125.15,216.16 L125.14,215.64 L125.45,215.60 L125.94,215.82 L126.39,215.98 L126.69,215.92 L126.86,215.67 L126.96,215.33 L127.05,214.97 L127.20,214.68 L127.47,214.59 L127.92,214.74 L128.43,214.99 L128.79,215.03 L128.82,214.58 L128.58,213.72 L128.37,212.92 L128.57,212.72 L129.28,213.25 L130.17,214.07 L130.79,214.47 L130.84,214.04 L130.46,213.00 L130.11,211.99 L130.18,211.60 L130.72,211.88 L131.43,212.43 L131.96,212.71 L132.17,212.53 L132.18,212.03 L132.18,211.54 L132.31,211.23 L132.57,211.12 L132.92,211.13 L133.29,211.18 L133.63,211.19 L133.85,211.01 L133.90,210.58 L133.84,210.00 L133.89,209.56 L134.25,209.59 L134.92,210.10 L135.64,210.65 L136.01,210.70 L135.86,209.98 L135.43,208.84 L135.19,207.98 L135.48,207.91 L136.25,208.56 L137.10,209.31 L137.59,209.54 L137.61,209.07 L137.38,208.23 L137.27,207.56 L137.45,207.33 L137.88,207.46 L138.35,207.66 L138.71,207.69 L138.93,207.53 L139.07,207.22 L139.16,206.86 L139.27,206.52 L139.48,206.32 L139.86,206.39 L140.38,206.67 L140.85,206.87 L141.03,206.64 L140.87,205.88 L140.59,204.96 L140.58,204.45 L141.09,204.70 L141.96,205.50 L142.75,206.17 L143.05,206.11 L142.82,205.27 L142.42,204.17 L142.31,203.49 L142.66,203.52 L143.32,204.00 L143.93,204.42 L144.28,204.42 L144.36,204.04 L144.36,203.54 L144.44,203.15 L144.65,202.97 L144.96,202.93 L145.33,202.97 L145.70,203.03 L146.00,202.96 L146.12,202.63 L146.07,202.06 L146.02,201.49 L146.23,201.29 L146.81,201.65 L147.57,202.29 L148.14,202.63 L148.20,202.23 L147.84,201.18 L147.46,200.10 L147.51,199.67 L148.11,200.06 L148.97,200.85 L149.63,201.34 L149.84,201.15 L149.70,200.42 L149.52,199.66 L149.59,199.25 L149.92,199.25 L150.38,199.43 L150.78,199.53 L151.07,199.45 L151.24,199.21 L151.35,198.86 L151.44,198.48 L151.58,198.20 L151.89,198.15 L152.38,198.39 L152.92,198.70 L153.25,198.69 L153.21,198.12 L152.92,197.17 L152.74,196.40 L153.03,196.32 L153.80,196.97 L154.68,197.80 L155.21,198.10 L155.19,197.55 L154.82,196.49 L154.55,195.58 L154.71,195.31 L155.27,195.64 L155.92,196.11 L156.38,196.29 L156.56,196.05 L156.59,195.59 L156.63,195.15 L156.79,194.88 L157.06,194.78 L157.40,194.79 L157.79,194.86 L158.14,194.88 L158.34,194.67 L158.33,194.15 L158.23,193.50 L158.30,193.10 L158.74,193.26 L159.49,193.87 L160.20,194.43 L160.48,194.35 L160.25,193.50 L159.81,192.34 L159.65,191.59 L160.04,191.67 L160.84,192.36 L161.61,193.04 L162.00,193.13 L161.98,192.59 L161.81,191.81 L161.78,191.25 L162.02,191.11 L162.43,191.24 L162.86,191.38 L163.19,191.39 L163.41,191.22 L163.55,190.93 L163.65,190.55 L163.76,190.19 L163.99,190.03 L164.41,190.21 L164.96,190.59 L165.41,190.81 L165.54,190.48 L165.35,189.61 L165.12,188.64 L165.21,188.22 L165.77,188.64 L166.60,189.56 L167.28,190.21 L167.51,190.05 L167.32,189.13 L167.05,188.07 L167.07,187.51 L167.46,187.64 L168.05,188.14 L168.56,188.51 L168.86,188.47 L168.98,188.10 L169.06,187.65 L169.20,187.33 L169.43,187.17 L169.75,187.16 L170.12,187.26 L170.50,187.38 L170.79,187.33 L170.90,186.94 L170.86,186.27 L170.87,185.69 L171.15,185.61 L171.76,186.16 L172.48,186.92 L172.97,187.22 L173.00,186.68 L172.70,185.53 L172.45,184.49 L172.62,184.21 L173.23,184.75 L173.99,185.55 L174.54,185.96 L174.71,185.68 L174.63,184.96 L174.58,184.29 L174.73,183.98 L175.08,184.02 L175.49,184.18 L175.86,184.26 L176.14,184.18 L176.33,183.95 L176.45,183.59 L176.54,183.19 L176.70,182.91 L177.06,182.96 L177.59,183.32 L178.14,183.69 L178.42,183.62 L178.33,182.91 L178.04,181.88 L177.94,181.16 L178.32,181.24 L179.11,182.01 L179.93,182.84 L180.36,183.02 L180.30,182.37 L179.99,181.31 L179.84,180.52 L180.09,180.37 L180.63,180.74 L181.20,181.15 L181.59,181.25 L181.76,180.99 L181.83,180.56 L181.93,180.18 L182.11,179.94 L182.39,179.85 L182.74,179.90 L183.15,180.03 L183.50,180.07 L183.67,179.81 L183.63,179.20 L183.54,178.50 L183.66,178.16 L184.17,178.46 L184.93,179.20 L185.59,179.76 L185.81,179.58 L185.56,178.61 L185.20,177.44 L185.14,176.80 L185.59,177.01 L186.35,177.75 L187.03,178.34 L187.35,178.34 L187.34,177.77 L187.25,177.06 L187.30,176.60 L187.57,176.51 L187.97,176.62 L188.36,176.73 L188.67,176.72 L188.91,176.56 L189.05,176.25 L189.13,175.83 L189.23,175.45 L189.49,175.34 L189.98,175.62 L190.57,176.07 L191.00,176.24 L191.06,175.79 L190.79,174.79 L190.56,173.84 L190.71,173.56 L191.36,174.11 L192.23,175.01 L192.86,175.52 L192.99,175.20 L192.75,174.25 L192.52,173.30 L192.59,172.88 L193.03,173.06 L193.60,173.48 L194.07,173.72 L194.32,173.59 L194.43,173.23 L194.52,172.83 L194.66,172.52 L194.89,172.36 L195.21,172.35 L195.62,172.47 L196.02,172.60 L196.28,172.50 L196.31,172.00 L196.19,171.25 L196.18,170.68 L196.52,170.71 L197.23,171.35 L198.00,172.09 L198.44,172.26 L198.35,171.58 L197.97,170.41 L197.74,169.48 L197.98,169.33 L198.64,169.89 L199.40,170.59 L199.88,170.85 L199.99,170.49 L199.91,169.81 L199.89,169.24 L200.07,169.00 L200.42,169.04 L200.81,169.15 L201.17,169.19 L201.44,169.10 L201.62,168.86 L201.71,168.46 L201.77,168.02 L201.94,167.76 L202.35,167.90 L202.94,168.35 L203.49,168.73 L203.71,168.56 L203.55,167.72 L203.24,166.64 L203.19,166.01 L203.65,166.24 L204.47,167.08 L205.23,167.85 L205.58,167.89 L205.48,167.16 L205.22,166.15 L205.16,165.49 L205.46,165.44 L205.99,165.80 L206.50,166.13 L206.83,166.15 L207.00,165.88 L207.10,165.49 L207.23,165.15 L207.42,164.91 L207.70,164.84 L208.07,164.93 L208.50,165.12 L208.85,165.17 L208.98,164.83 L208.90,164.12 L208.80,163.38 L208.98,163.12 L209.56,163.57 L210.34,164.40 L210.95,164.91 L211.09,164.59 L210.82,163.53 L210.51,162.41 L210.55,161.90 L211.05,162.22 L211.77,162.94 L212.37,163.43 L212.63,163.32 L212.63,162.75 L212.60,162.12 L212.72,161.75 L213.00,161.69 L213.38,161.79 L213.75,161.87 L214.06,161.86 L214.30,161.70 L214.42,161.36 L214.48,160.89 L214.59,160.50 L214.89,160.47 L215.43,160.87 L216.05,161.38 L216.44,161.50 L216.43,160.91 L216.13,159.82 L215.94,158.91 L216.18,158.76 L216.88,159.43 L217.71,160.32 L218.25,160.72 L218.33,160.28 L218.11,159.33 L217.96,158.49 L218.11,158.19 L218.56,158.41 L219.08,158.77 L219.49,158.92 L219.72,158.76 L219.85,158.42 L219.96,158.05 L220.12,157.76 L220.35,157.60 L220.69,157.63 L221.12,157.83 L221.54,157.99 L221.77,157.83 L221.75,157.23 L221.61,156.40 L221.64,155.88 L222.05,156.05 L222.80,156.82 L223.54,157.56 L223.89,157.63 L223.76,156.82 L223.43,155.63 L223.30,154.82 L223.61,154.81 L224.27,155.42 L224.93,156.05 L225.33,156.20 L225.43,155.80 L225.41,155.18 L225.47,154.70 L225.69,154.53 L226.03,154.57 L226.40,154.67 L226.75,154.72 L227.03,154.64 L227.20,154.38 L227.28,153.93 L227.35,153.45 L227.55,153.25 L228.01,153.51 L228.62,154.08 L229.14,154.46 L229.30,154.17 L229.12,153.22 L228.87,152.13 L228.92,151.62 L229.43,151.99 L230.21,152.88 L230.88,153.55 L231.15,153.47 L231.06,152.70 L230.90,151.78 L230.95,151.26 L231.28,151.29 L231.76,151.61 L232.20,151.84 L232.50,151.81 L232.68,151.55 L232.82,151.20 L232.96,150.88 L233.16,150.65 L233.45,150.60 L233.84,150.74 L234.28,150.95 L234.61,150.97 L234.70,150.55 L234.60,149.78 L234.55,149.09 L234.79,148.95 L235.39,149.47 L236.14,150.23 L236.65,150.59 L236.73,150.15 L236.50,149.14 L236.30,148.20 L236.43,147.88 L236.94,148.20 L237.57,148.76 L238.05,149.05 L238.26,148.86 L238.31,148.36 L238.36,147.87 L238.53,147.60 L238.81,147.54 L239.15,147.57 L239.49,147.61 L239.80,147.58 L240.02,147.41 L240.15,147.05 L240.22,146.60 L240.36,146.27 L240.69,146.30 L241.22,146.68 L241.75,147.08 L242.06,147.07 L242.05,146.46 L241.88,145.55 L241.84,144.88 L242.15,144.86 L242.75,145.41 L243.38,146.01 L243.77,146.16 L243.86,145.73 L243.81,145.03 L243.85,144.47 L244.08,144.31 L244.46,144.44 L244.85,144.61 L245.17,144.64 L245.41,144.48 L245.60,144.23 L245.77,143.95 L245.97,143.72 L246.22,143.58 L246.54,143.61 L246.91,143.75 L247.26,143.83 L247.48,143.64 L247.56,143.14 L247.59,142.55 L247.75,142.22 L248.13,142.38 L248.66,142.87 L249.15,143.26 L249.42,143.17 L249.46,142.59 L249.44,141.86 L249.54,141.43 L249.86,141.45 L250.31,141.75 L250.73,142.00 L251.02,141.97 L251.20,141.69 L251.35,141.34 L251.54,141.08 L251.80,140.95 L252.09,140.92 L252.39,140.91 L252.69,140.88 L252.95,140.79 L253.17,140.58 L253.34,140.28 L253.51,139.98 L253.76,139.86 L254.13,139.98 L254.54,140.21 L254.88,140.29 L255.08,140.04 L255.14,139.51 L255.22,138.99 L255.43,138.78 L255.80,138.92 L256.24,139.22 L256.62,139.37 L256.86,139.21 L256.99,138.83 L257.12,138.44 L257.33,138.22 L257.62,138.18 L257.94,138.21 L258.24,138.20 L258.51,138.10 L258.74,137.93 L258.96,137.74 L259.18,137.56 L259.42,137.41 L259.70,137.33 L260.00,137.32 L260.31,137.33 L260.58,137.24 L260.78,137.00 L260.93,136.66 L261.11,136.38 L261.39,136.30 L261.74,136.42 L262.12,136.56 L262.42,136.55 L262.62,136.31 L262.76,135.95 L262.93,135.64 L263.18,135.51 L263.50,135.53 L263.83,135.59 L264.12,135.55 L264.36,135.41 L264.58,135.21 L264.81,135.03 L265.06,134.90 L265.32,134.81 L265.60,134.73 L265.87,134.67 L266.14,134.58 L266.39,134.46 L266.62,134.28 L266.85,134.10 L267.09,133.95 L267.37,133.90 L267.68,133.91 L267.99,133.91 L268.25,133.81 L268.46,133.59 L268.65,133.32 L268.88,133.13 L269.16,133.07 L269.47,133.09 L269.78,133.11 L270.05,133.03 L270.28,132.87 L270.51,132.67 L270.74,132.50 L271.01,132.40 L271.28,132.34 L271.56,132.28 L271.83,132.20 L272.09,132.09 L272.34,131.96 L272.59,131.84 L272.84,131.72 L273.11,131.62 L273.38,131.55 L273.66,131.50 L273.94,131.43 L274.19,131.31 L274.42,131.13 L274.65,130.95 L274.91,130.83 L275.19,130.80 L275.50,130.81 L275.79,130.79 L276.05,130.68 L276.28,130.49 L276.50,130.29 L276.75,130.15 L277.03,130.09 L277.32,130.07 L277.60,130.03 L277.87,129.94 L278.12,129.81 L278.37,129.68 L278.63,129.56 L278.89,129.47 L279.16,129.39 L279.43,129.32 L279.71,129.25 L279.97,129.16 L280.23,129.04 L280.47,128.89 L280.72,128.76 L280.99,128.68 L281.28,128.66 L281.58,128.66 L281.86,128.61 L282.11,128.47 L282.34,128.27 L282.57,128.09 L282.83,127.99 L283.13,127.99 L283.43,128.01 L283.71,127.98 L283.97,127.88 L284.22,127.72 L284.47,127.58 L284.73,127.47 L285.00,127.42 L285.28,127.38 L285.56,127.32 L285.83,127.25 L286.09,127.16 L286.36,127.05 L286.62,126.95 L286.88,126.86 L287.16,126.81 L287.44,126.78 L287.73,126.75 L288.00,126.68 L288.25,126.55 L288.50,126.38 L288.75,126.24 L289.03,126.20 L289.33,126.23 L289.63,126.26 L289.91,126.22 L290.16,126.08 L290.40,125.90 L290.65,125.76 L290.92,125.69 L291.21,125.68 L291.50,125.67 L291.78,125.63 L292.05,125.54 L292.31,125.43 L292.57,125.33 L292.84,125.25 L293.11,125.19 L293.39,125.13 L293.67,125.09 L293.94,125.03 L294.21,124.95 L294.47,124.83 L294.73,124.70 L294.99,124.61 L295.28,124.58 L295.57,124.60 L295.86,124.60 L296.13,124.52 L296.37,124.35 L296.61,124.16 L296.87,124.04 L297.15,124.01 L297.45,124.04 L297.75,124.06 L298.02,124.00 L298.28,123.87 L298.53,123.72 L298.79,123.61 L299.06,123.55 L299.34,123.51 L299.62,123.47 L299.90,123.41 L300.17,123.34 L300.43,123.24 L300.70,123.14 L300.96,123.05 L301.23,122.99 L301.52,122.96 L301.80,122.95 L302.08,122.91 L302.34,122.80 L302.59,122.64 L302.84,122.48 L303.11,122.40 L303.40,122.41 L303.70,122.46 L303.99,122.46 L304.26,122.37 L304.51,122.20 L304.75,122.04 L305.02,121.94 L305.30,121.91 L305.59,121.92 L305.87,121.89 L306.15,121.82 L306.41,121.72 L306.67,121.62 L306.94,121.53 L307.21,121.46 L307.49,121.41 L307.77,121.36 L308.04,121.32 L308.32,121.25 L308.58,121.14 L308.84,121.01 L309.10,120.90 L309.38,120.85 L309.67,120.87 L309.96,120.90 L310.24,120.86 L310.50,120.73 L310.74,120.54 L311.00,120.39 L311.27,120.33 L311.57,120.36 L311.86,120.40 L312.14,120.38 L312.41,120.29 L312.67,120.16 L312.93,120.05 L313.20,119.98 L313.48,119.95 L313.77,119.93 L314.04,119.90 L314.32,119.85 L314.59,119.79 L314.86,119.71 L315.13,119.63 L315.41,119.58 L315.69,119.56 L315.97,119.57 L316.26,119.57 L316.53,119.52 L316.80,119.40 L317.06,119.25 L317.33,119.15 L317.61,119.15 L317.91,119.22 L318.20,119.28 L318.48,119.25 L318.75,119.14 L319.01,118.99 L319.28,118.89 L319.56,118.86 L319.84,118.88 L320.13,118.90 L320.41,118.88 L320.68,118.82 L320.96,118.75 L321.23,118.69 L321.51,118.65 L321.79,118.62 L322.07,118.61 L322.35,118.61 L322.63,118.59 L322.91,118.53 L323.18,118.44 L323.45,118.35 L323.73,118.31 L324.02,118.35 L324.30,118.42 L324.59,118.46 L324.87,118.40 L325.13,118.26 L325.40,118.12 L325.67,118.05 L325.96,118.08 L326.25,118.16 L326.54,118.20 L326.81,118.17 L327.09,118.08 L327.36,117.99 L327.64,117.93 L327.92,117.92 L328.20,117.92 L328.48,117.92 L328.76,117.90 L329.04,117.87 L329.32,117.82 L329.60,117.76 L329.87,117.72 L330.15,117.70 L330.44,117.74 L330.72,117.78 L331.00,117.78 L331.28,117.70 L331.55,117.58 L331.83,117.47 L332.11,117.46 L332.39,117.54 L332.68,117.64 L332.96,117.68 L333.24,117.62 L333.52,117.50 L333.79,117.40 L334.07,117.37 L334.35,117.41 L334.64,117.46 L334.92,117.48 L335.20,117.47 L335.48,117.43 L335.76,117.39 L336.04,117.36 L336.32,117.36 L336.60,117.37 L336.88,117.39 L337.16,117.41 L337.44,117.39 L337.72,117.33 L338.00,117.26 L338.28,117.21 L338.56,117.25 L338.84,117.34 L339.12,117.43 L339.40,117.44 L339.68,117.35 L339.96,117.23 L340.25,117.15 L340.53,117.18 L340.81,117.27 L341.09,117.38 L341.36,117.42 L341.65,117.40 L341.93,117.35 L342.22,117.34 L342.50,117.36 L342.78,117.41 L343.06,117.47 L343.33,117.52 L343.61,117.55 L343.89,117.56 L344.18,117.56 L344.46,117.55 L344.74,117.58 L345.01,117.65 L345.28,117.75 L345.56,117.82 L345.84,117.83 L346.13,117.76 L346.42,117.68 L346.70,117.68 L346.98,117.77 L347.24,117.92 L347.51,118.04 L347.80,118.06 L348.09,118.01 L348.38,117.94 L348.66,117.94 L348.94,118.00 L349.21,118.09 L349.49,118.17 L349.77,118.21 L350.05,118.22 L350.33,118.23 L350.62,118.24 L350.90,118.27 L351.17,118.33 L351.45,118.40 L351.72,118.47 L352.00,118.52 L352.28,118.52 L352.57,118.49 L352.86,118.48 L353.14,118.54 L353.40,118.67 L353.65,118.82 L353.92,118.91 L354.20,118.91 L354.50,118.85 L354.80,118.80 L355.08,118.84 L355.34,118.96 L355.60,119.11 L355.86,119.23 L356.14,119.28 L356.43,119.30 L356.72,119.33 L357.00,119.40 L357.27,119.50 L357.53,119.61 L357.79,119.73 L358.06,119.83 L358.32,119.92 L358.60,119.99 L358.88,120.05 L359.15,120.13 L359.40,120.25 L359.64,120.41 L359.88,120.57 L360.14,120.66 L360.43,120.68 L360.73,120.67 L361.02,120.69 L361.28,120.80 L361.51,121.00 L361.74,121.19 L361.99,121.31 L362.28,121.35 L362.58,121.35 L362.86,121.38 L363.13,121.47 L363.38,121.61 L363.63,121.75 L363.88,121.87 L364.15,121.95 L364.43,122.02 L364.70,122.10 L364.97,122.18 L365.23,122.28 L365.48,122.40 L365.73,122.53 L365.99,122.65 L366.26,122.73 L366.55,122.77 L366.84,122.79 L367.11,122.87 L367.36,123.02 L367.58,123.22 L367.81,123.40 L368.08,123.49 L368.38,123.50 L368.69,123.50 L368.97,123.55 L369.22,123.70 L369.45,123.89 L369.68,124.07 L369.93,124.19 L370.21,124.26 L370.49,124.33 L370.76,124.42 L371.02,124.54 L371.27,124.68 L371.51,124.82 L371.76,124.96 L372.01,125.09 L372.28,125.19 L372.55,125.28 L372.82,125.38 L373.07,125.51 L373.30,125.69 L373.51,125.90 L373.74,126.06 L374.01,126.16 L374.31,126.20 L374.61,126.25 L374.86,126.37 L375.07,126.58 L375.26,126.82 L375.47,127.02 L375.72,127.15 L376.01,127.21 L376.30,127.29 L376.56,127.41 L376.78,127.58 L377.00,127.78 L377.22,127.96 L377.46,128.11 L377.71,128.24 L377.96,128.37 L378.21,128.51 L378.46,128.66 L378.68,128.83 L378.90,129.02 L379.11,129.21 L379.34,129.37 L379.60,129.49 L379.88,129.58 L380.15,129.70 L380.37,129.88 L380.54,130.13 L380.71,130.38 L380.91,130.57 L381.18,130.69 L381.48,130.77 L381.76,130.87 L381.98,131.04 L382.16,131.27 L382.33,131.52 L382.53,131.72 L382.77,131.88 L383.02,132.01 L383.27,132.16 L383.49,132.33 L383.70,132.52 L383.91,132.72 L384.11,132.92 L384.32,133.10 L384.55,133.28 L384.79,133.43 L385.03,133.58 L385.26,133.75 L385.44,133.97 L385.60,134.21 L385.77,134.45 L385.99,134.63 L386.26,134.75 L386.55,134.86 L386.80,135.01 L386.98,135.23 L387.11,135.51 L387.25,135.77 L387.44,135.97 L387.70,136.12 L387.96,136.25 L388.20,136.41 L388.40,136.61 L388.57,136.84 L388.74,137.07 L388.94,137.27 L389.14,137.46 L389.36,137.64 L389.58,137.82 L389.79,138.01 L389.99,138.22 L390.16,138.44 L390.33,138.67 L390.51,138.89 L390.73,139.07 L390.99,139.22 L391.25,139.37 L391.45,139.57 L391.59,139.83 L391.70,140.12 L391.84,140.38 L392.05,140.57 L392.32,140.72 L392.60,140.86 L392.81,141.06 L392.95,141.31 L393.07,141.59 L393.20,141.85 L393.38,142.07 L393.59,142.27 L393.80,142.48 L393.99,142.69 L394.16,142.93 L394.31,143.18 L394.46,143.43 L394.61,143.67 L394.77,143.91 L394.95,144.13 L395.15,144.35 L395.33,144.57 L395.47,144.82 L395.55,145.10 L395.63,145.39 L395.74,145.65 L395.94,145.86 L396.18,146.05 L396.40,146.26 L396.54,146.51 L396.60,146.80 L396.63,147.10 L396.72,147.38 L396.88,147.61 L397.09,147.82 L397.29,148.04 L397.43,148.29 L397.53,148.56 L397.62,148.83 L397.72,149.10 L397.85,149.35 L397.99,149.59 L398.14,149.84 L398.29,150.08 L398.42,150.33 L398.52,150.60 L398.60,150.87 L398.69,151.14 L398.82,151.39 L399.00,151.61 L399.20,151.83 L399.37,152.06 L399.45,152.33 L399.47,152.63 L399.50,152.93 L399.61,153.18 L399.81,153.40 L400.04,153.60 L400.22,153.82 L400.33,154.09 L400.38,154.37 L400.44,154.66 L400.54,154.92 L400.69,155.17 L400.86,155.40 L401.01,155.64 L401.13,155.90 L401.24,156.16 L401.34,156.43 L401.44,156.69 L401.55,156.96 L401.69,157.21 L401.85,157.44 L402.01,157.69 L402.13,157.94 L402.19,158.23 L402.22,158.53 L402.28,158.81 L402.42,159.06 L402.63,159.28 L402.83,159.51 L402.97,159.76 L403.01,160.05 L403.01,160.36 L403.03,160.65 L403.13,160.92 L403.29,161.17 L403.46,161.41 L403.58,161.67 L403.66,161.95 L403.70,162.23 L403.76,162.51 L403.83,162.79 L403.92,163.05 L404.03,163.32 L404.13,163.59 L404.22,163.86 L404.29,164.13 L404.32,164.42 L404.35,164.70 L404.41,164.98 L404.52,165.24 L404.69,165.49 L404.83,165.75 L404.89,166.02 L404.87,166.32 L404.83,166.62 L404.85,166.91 L404.96,167.17 L405.14,167.41 L405.30,167.66 L404.57,169.64 L404.73,171.18 L404.87,172.73 L404.97,174.27 L405.03,175.82 L405.07,177.36 L405.10,178.91 L405.12,180.46 L405.15,182.01 L405.17,183.56 L405.20,185.11 L405.24,186.65 L405.27,188.20 L405.31,189.75 L405.35,191.30 L405.38,192.85 L405.42,194.40 L405.46,195.94 L405.50,197.49 L405.54,199.04 L405.59,200.59 L405.63,202.14 L405.68,203.68 L405.73,205.23 L405.77,206.78 L405.82,208.33 L405.87,209.87 L405.93,211.42 L405.98,212.97 L406.03,214.52 L406.09,216.06 L406.14,217.61 L406.20,219.16 L406.26,220.71 L406.32,222.25 L406.39,223.80 L406.46,225.35 L406.54,226.90 L406.61,228.44 L406.69,229.99 L406.76,231.54 L406.83,233.08 L406.89,234.63 L406.94,236.18 L406.99,237.73 L407.03,239.27 L407.07,240.82 L407.11,242.37 L407.15,243.92 L407.19,245.47 L407.22,247.01 L407.26,248.56 L407.30,250.11 L407.33,251.66 L407.37,253.21 L407.40,254.76 L407.44,256.30 L407.47,257.85 L407.50,259.40" stroke="#ff0000" stroke-dasharray="2.9 3.0" stroke-width="1.3"/>
<path d="M61.99,259.39 L62.81,259.07 L63.36,258.32 L64.34,258.27 L64.90,257.52 L65.72,257.21 L66.45,256.76 L67.16,256.26 L67.99,255.96 L68.58,255.27 L69.48,255.10 L70.14,254.52 L70.84,254.01 L71.69,253.75 L72.34,253.15 L73.14,252.81 L73.84,252.30 L74.59,251.87 L75.42,251.57 L75.96,250.80 L76.94,250.76 L77.52,250.03 L78.32,249.70 L79.07,249.27 L79.77,248.76 L80.60,248.47 L81.20,247.78 L82.09,247.60 L82.77,247.06 L83.46,246.52 L84.31,246.27 L84.97,245.68 L85.76,245.33 L86.47,244.84 L87.21,244.39 L88.06,244.12 L88.59,243.34 L89.57,243.29 L90.16,242.59 L90.95,242.24 L91.70,241.82 L92.41,241.31 L93.25,241.03 L93.84,240.34 L94.72,240.14 L95.43,239.64 L96.10,239.08 L96.96,238.84 L97.62,238.25 L98.41,237.90 L99.13,237.42 L99.85,236.95 L100.72,236.72 L101.24,235.91 L102.21,235.85 L102.82,235.18 L103.60,234.81 L104.36,234.39 L105.06,233.88 L105.90,233.61 L106.49,232.92 L107.36,232.69 L108.09,232.22 L108.74,231.63 L109.60,231.39 L110.27,230.81 L111.06,230.46 L111.77,229.97 L112.49,229.49 L113.37,229.28 L113.89,228.46 L114.85,228.39 L115.47,227.74 L116.24,227.36 L117.01,226.95 L117.70,226.43 L118.55,226.18 L119.15,225.49 L120.01,225.25 L120.75,224.81 L121.40,224.21 L122.27,223.98 L122.94,223.42 L123.73,223.06 L124.46,222.60 L125.17,222.10 L126.06,221.93 L126.59,221.11 L127.54,221.04 L128.18,220.42 L128.96,220.04 L129.73,219.65 L130.43,219.14 L131.29,218.91 L131.90,218.24 L132.75,217.99 L133.53,217.61 L134.17,216.99 L135.04,216.79 L135.73,216.25 L136.53,215.91 L137.28,215.49 L138.00,214.99 L138.92,214.89 L139.47,214.08 L140.43,214.05 L141.11,213.48 L141.89,213.11 L142.68,212.77 L143.39,212.26 L144.26,212.07 L144.90,211.42 L145.73,211.15 L146.53,210.81 L147.16,210.18 L148.03,209.96 L148.70,209.40 L149.48,209.02 L150.21,208.56 L150.87,207.99 L151.79,207.84 L152.28,206.99 L153.22,206.86 L153.87,206.27 L154.62,205.84 L155.39,205.46 L156.07,204.91 L156.93,204.67 L157.55,204.01 L158.36,203.68 L159.16,203.34 L159.78,202.69 L160.65,202.47 L161.34,201.93 L162.12,201.57 L162.88,201.17 L163.57,200.62 L164.51,200.56 L165.06,199.75 L165.99,199.68 L166.71,199.19 L167.49,198.81 L168.30,198.51 L169.03,198.02 L169.91,197.87 L170.59,197.29 L171.41,197.00 L172.26,196.77 L172.92,196.16 L173.80,195.99 L174.52,195.50 L175.31,195.16 L176.09,194.79 L176.76,194.22 L177.71,194.16 L178.25,193.35 L179.17,193.22 L179.87,192.71 L180.62,192.28 L181.42,191.94 L182.11,191.40 L182.98,191.20 L183.64,190.60 L184.43,190.24 L185.28,190.01 L185.92,189.37 L186.79,189.17 L187.51,188.69 L188.30,188.34 L189.09,187.99 L189.77,187.41 L190.72,187.40 L191.30,186.61 L192.20,186.50 L192.94,186.05 L193.70,185.64 L194.51,185.33 L195.22,184.82 L196.10,184.65 L196.79,184.09 L197.57,183.72 L198.44,183.54 L199.10,182.91 L199.96,182.72 L200.70,182.26 L201.50,181.93 L202.31,181.63 L203.00,181.05 L203.96,181.09 L204.58,180.34 L205.48,180.26 L206.26,179.88 L207.04,179.51 L207.88,179.28 L208.63,178.82 L209.52,178.73 L210.26,178.25 L211.05,177.91 L211.94,177.82 L212.64,177.23 L213.51,177.09 L214.27,176.68 L215.07,176.37 L215.89,176.10 L216.57,175.50 L217.53,175.55 L218.14,174.80 L219.02,174.65 L219.78,174.25 L220.54,173.84 L221.37,173.56 L222.09,173.05 L222.97,172.90 L223.70,172.42 L224.47,172.01 L225.37,171.92 L226.05,171.32 L226.92,171.16 L227.69,170.75 L228.49,170.44 L229.33,170.20 L230.02,169.60 L230.99,169.70 L231.65,169.00 L232.53,168.89 L233.33,168.56 L234.12,168.20 L234.96,168.00 L235.72,167.53 L236.60,167.45 L237.38,167.04 L238.16,166.65 L239.07,166.64 L239.79,166.08 L240.67,165.97 L241.47,165.63 L242.29,165.37 L243.16,165.22 L243.89,164.66 L244.85,164.85 L245.57,164.24 L246.45,164.17 L247.29,163.95 L248.10,163.66 L248.97,163.54 L249.76,163.15 L250.65,163.14 L251.46,162.84 L252.26,162.48 L253.17,162.56 L253.93,162.06 L254.80,161.99 L255.62,161.70 L256.44,161.46 L257.31,161.36 L258.05,160.79 L259.00,160.99 L259.73,160.40 L260.60,160.30 L261.44,160.09 L262.25,159.78 L263.11,159.66 L263.90,159.26 L264.79,159.23 L265.61,158.95 L266.40,158.56 L267.32,158.66 L268.08,158.17 L268.96,158.10 L269.78,157.84 L270.62,157.61 L271.50,157.57 L272.26,157.02 L273.20,157.27 L273.97,156.75 L274.84,156.67 L275.69,156.53 L276.52,156.26 L277.39,156.20 L278.20,155.84 L279.08,155.84 L279.93,155.65 L280.74,155.28 L281.65,155.45 L282.46,155.03 L283.33,155.02 L284.18,154.84 L285.03,154.68 L285.91,154.75 L286.71,154.24 L287.63,154.57 L288.45,154.15 L289.32,154.13 L290.18,154.07 L291.03,153.88 L291.91,153.91 L292.75,153.64 L293.62,153.71 L294.49,153.65 L295.32,153.32 L296.21,153.58 L297.04,153.24 L297.92,153.28 L298.78,153.16 L299.63,153.04 L300.52,153.18 L301.35,152.73 L302.25,153.13 L303.10,152.81 L303.97,152.87 L304.84,152.94 L305.70,152.87 L306.56,153.02 L307.43,152.87 L308.29,153.04 L309.15,153.12 L310.02,152.89 L310.87,153.27 L311.74,153.06 L312.60,153.21 L313.47,153.23 L314.33,153.20 L315.18,153.48 L316.06,153.12 L316.90,153.61 L317.78,153.43 L318.63,153.54 L319.49,153.70 L320.36,153.68 L321.20,153.90 L322.08,153.81 L322.93,154.02 L323.78,154.19 L324.67,153.98 L325.49,154.42 L326.38,154.28 L327.23,154.47 L328.09,154.55 L328.96,154.58 L329.79,154.95 L330.71,154.64 L331.50,155.19 L332.39,155.08 L333.24,155.25 L334.07,155.47 L334.93,155.53 L335.73,155.83 L336.61,155.87 L337.43,156.18 L338.21,156.57 L339.15,156.52 L339.85,157.14 L340.75,157.24 L341.53,157.63 L342.34,157.94 L343.19,158.18 L343.89,158.75 L344.85,158.66 L345.51,159.35 L346.39,159.48 L347.19,159.80 L347.96,160.21 L348.80,160.45 L349.54,160.93 L350.41,161.11 L351.16,161.55 L351.89,162.03 L352.82,162.10 L353.46,162.77 L354.33,162.95 L355.07,163.40 L355.85,163.77 L356.68,164.04 L357.35,164.67 L358.34,164.64 L358.95,165.40 L359.85,165.58 L360.62,166.01 L361.37,166.48 L362.18,166.82 L362.84,167.41 L363.69,167.71 L364.35,168.29 L364.96,168.97 L365.87,169.37 L366.24,170.25 L366.96,170.83 L367.43,171.59 L367.91,172.34 L368.49,173.01 L368.67,173.92 L369.50,174.41 L369.64,175.34 L370.25,175.98 L370.73,176.70 L371.12,177.48 L371.67,178.16 L371.99,178.98 L372.59,179.63 L372.99,180.40 L373.28,181.23 L374.02,181.80 L374.18,182.71 L374.77,183.37 L375.15,184.15 L375.58,184.90 L376.13,185.59 L376.26,186.51 L377.07,187.05 L377.18,187.98 L377.71,188.68 L378.15,189.42 L378.48,190.22 L378.99,190.92 L379.26,191.76 L379.82,192.43 L380.22,193.19 L380.46,194.03 L381.19,194.58 L381.38,195.47 L381.97,196.11 L382.40,196.87 L382.85,197.62 L383.45,198.27 L383.61,199.20 L384.44,199.73 L384.58,200.66 L385.07,201.39 L385.51,202.15 L385.78,202.99 L386.24,203.74 L386.44,204.60 L386.90,205.35 L387.25,206.15 L387.32,207.06 L387.99,207.73 L388.02,208.65 L388.46,209.41 L388.73,210.23 L389.00,211.05 L389.48,211.79 L389.45,212.73 L390.18,213.36 L390.22,214.26 L390.63,215.02 L391.03,215.79 L391.28,216.61 L391.73,217.36 L391.93,218.21 L392.41,218.94 L392.79,219.71 L392.90,220.61 L393.59,221.24 L393.69,222.15 L394.16,222.88 L394.49,223.68 L394.79,224.50 L395.33,225.20 L395.33,226.15 L396.07,226.77 L396.16,227.68 L396.54,228.45 L396.96,229.22 L397.19,230.06 L397.63,230.82 L397.81,231.68 L398.23,232.44 L398.62,233.22 L398.66,234.13 L399.32,234.81 L399.38,235.71 L399.80,236.48 L400.08,237.29 L400.32,238.12 L400.84,238.85 L400.77,239.80 L401.46,240.47 L401.54,241.36 L401.86,242.16 L402.25,242.94 L402.45,243.78 L402.87,244.55 L403.03,245.41 L403.42,246.18 L403.83,246.95 L403.83,247.87 L404.49,248.54 L404.56,249.44 L404.96,250.21 L405.26,251.02 L405.49,251.86 L406.03,252.58 L405.95,253.53 L406.63,254.19 L406.74,255.07 L407.04,255.88 L407.44,256.65 L407.65,257.50 L408.07,258.26 L408.24,259.12" stroke="#0000ff" stroke-dasharray="2.9 3.0" stroke-width="1.3"/>
<path d="M62.00,259.40 L63.16,258.91 L64.31,258.42 L65.47,257.94 L66.62,257.46 L67.78,256.97 L68.93,256.49 L70.09,256.02 L71.24,255.54 L72.40,255.07 L73.56,254.60 L74.71,254.13 L75.87,253.66 L77.02,253.19 L78.18,252.73 L79.33,252.27 L80.49,251.81 L81.64,251.35 L82.80,250.89 L83.95,250.44 L85.11,249.99 L86.27,249.54 L87.42,249.09 L88.58,248.65 L89.73,248.20 L90.89,247.76 L92.04,247.32 L93.20,246.89 L94.35,246.45 L95.51,246.02 L96.67,245.59 L97.82,245.17 L98.98,244.74 L100.13,244.31 L101.29,243.89 L102.44,243.46 L103.60,243.03 L104.75,242.61 L105.91,242.18 L107.07,241.76 L108.22,241.33 L109.38,240.91 L110.53,240.49 L111.69,240.07 L112.84,239.65 L114.00,239.24 L115.15,238.82 L116.31,238.42 L117.46,238.01 L118.62,237.61 L119.78,237.21 L120.93,236.81 L122.09,236.42 L123.24,236.03 L124.40,235.65 L125.55,235.27 L126.71,234.90 L127.86,234.53 L129.02,234.17 L130.18,233.82 L131.33,233.47 L132.49,233.12 L133.64,232.79 L134.80,232.46 L135.95,232.13 L137.11,231.82 L138.26,231.52 L139.42,231.22 L140.58,230.93 L141.73,230.64 L142.89,230.36 L144.04,230.08 L145.20,229.81 L146.35,229.54 L147.51,229.27 L148.66,229.00 L149.82,228.73 L150.97,228.45 L152.13,228.18 L153.29,227.92 L154.44,227.65 L155.60,227.38 L156.75,227.12 L157.91,226.87 L159.06,226.61 L160.22,226.36 L161.37,226.12 L162.53,225.88 L163.69,225.64 L164.84,225.41 L166.00,225.19 L167.15,224.97 L168.31,224.75 L169.46,224.53 L170.62,224.32 L171.77,224.11 L172.93,223.91 L174.09,223.71 L175.24,223.51 L176.40,223.32 L177.55,223.13 L178.71,222.95 L179.86,222.77 L181.02,222.59 L182.17,222.40 L183.33,222.22 L184.48,222.04 L185.64,221.87 L186.80,221.69 L187.95,221.53 L189.11,221.37 L190.26,221.22 L191.42,221.07 L192.57,220.94 L193.73,220.82 L194.88,220.71 L196.04,220.61 L197.20,220.51 L198.35,220.41 L199.51,220.31 L200.66,220.22 L201.82,220.13 L202.97,220.05 L204.13,219.97 L205.28,219.91 L206.44,219.85 L207.60,219.80 L208.75,219.77 L209.91,219.74 L211.06,219.72 L212.22,219.70 L213.37,219.69 L214.53,219.67 L215.68,219.65 L216.84,219.64 L217.99,219.63 L219.15,219.62 L220.31,219.61 L221.46,219.61 L222.62,219.60 L223.77,219.60 L224.93,219.60 L226.08,219.61 L227.24,219.63 L228.39,219.65 L229.55,219.68 L230.71,219.71 L231.86,219.75 L233.02,219.79 L234.17,219.83 L235.33,219.88 L236.48,219.92 L237.64,219.97 L238.79,220.02 L239.95,220.07 L241.11,220.13 L242.26,220.20 L243.42,220.28 L244.57,220.36 L245.73,220.45 L246.88,220.54 L248.04,220.64 L249.19,220.74 L250.35,220.85 L251.51,220.96 L252.66,221.07 L253.82,221.18 L254.97,221.30 L256.13,221.42 L257.28,221.55 L258.44,221.69 L259.59,221.84 L260.75,222.00 L261.90,222.16 L263.06,222.33 L264.22,222.50 L265.37,222.67 L266.53,222.85 L267.68,223.02 L268.84,223.20 L269.99,223.37 L271.15,223.55 L272.30,223.73 L273.46,223.92 L274.62,224.10 L275.77,224.29 L276.93,224.48 L278.08,224.68 L279.24,224.87 L280.39,225.07 L281.55,225.28 L282.70,225.48 L283.86,225.69 L285.02,225.91 L286.17,226.12 L287.33,226.35 L288.48,226.57 L289.64,226.81 L290.79,227.04 L291.95,227.28 L293.10,227.51 L294.26,227.75 L295.41,227.99 L296.57,228.23 L297.73,228.46 L298.88,228.70 L300.04,228.93 L301.19,229.16 L302.35,229.38 L303.50,229.61 L304.66,229.84 L305.81,230.07 L306.97,230.30 L308.13,230.53 L309.28,230.76 L310.44,231.00 L311.59,231.25 L312.75,231.49 L313.90,231.75 L315.06,232.01 L316.21,232.29 L317.37,232.57 L318.53,232.85 L319.68,233.15 L320.84,233.45 L321.99,233.75 L323.15,234.06 L324.30,234.38 L325.46,234.69 L326.61,235.01 L327.77,235.33 L328.92,235.64 L330.08,235.96 L331.24,236.28 L332.39,236.60 L333.55,236.93 L334.70,237.26 L335.86,237.59 L337.01,237.92 L338.17,238.25 L339.32,238.59 L340.48,238.92 L341.64,239.25 L342.79,239.58 L343.95,239.91 L345.10,240.24 L346.26,240.57 L347.41,240.90 L348.57,241.23 L349.72,241.56 L350.88,241.89 L352.04,242.21 L353.19,242.54 L354.35,242.87 L355.50,243.19 L356.66,243.52 L357.81,243.84 L358.97,244.16 L360.12,244.47 L361.28,244.78 L362.43,245.09 L363.59,245.40 L364.75,245.73 L365.90,246.06 L367.06,246.41 L368.21,246.76 L369.37,247.12 L370.52,247.48 L371.68,247.84 L372.83,248.21 L373.99,248.57 L375.15,248.93 L376.30,249.29 L377.46,249.64 L378.61,249.98 L379.77,250.33 L380.92,250.67 L382.08,251.01 L383.23,251.35 L384.39,251.69 L385.55,252.03 L386.70,252.37 L387.86,252.72 L389.01,253.07 L390.17,253.43 L391.32,253.78 L392.48,254.13 L393.63,254.48 L394.79,254.83 L395.94,255.19 L397.10,255.56 L398.26,255.93 L399.41,256.32 L400.57,256.71 L401.72,257.12 L402.88,257.55 L404.03,258.00 L405.19,258.45 L406.34,258.92 L407.50,259.40" stroke="#ffd700" stroke-dasharray="2.9 3.0"/>
<path d="M62.00,259.40 L62.80,258.85 L63.61,258.29 L64.41,257.74 L65.22,257.18 L66.02,256.63 L66.83,256.08 L67.63,255.52 L68.44,254.97 L69.24,254.41 L70.05,253.86 L70.85,253.30 L71.66,252.75 L72.46,252.20 L73.26,251.64 L74.07,251.09 L74.87,250.53 L75.68,249.98 L76.48,249.43 L77.29,248.87 L78.09,248.32 L78.90,247.76 L79.70,247.21 L80.51,246.65 L81.31,246.10 L82.12,245.55 L82.92,244.99 L83.72,244.44 L84.53,243.88 L85.33,243.33 L86.14,242.77 L86.94,242.22 L87.75,241.67 L88.55,241.11 L89.36,240.56 L90.16,240.00 L90.96,239.45 L91.77,238.89 L92.57,238.34 L93.38,237.79 L94.18,237.23 L94.99,236.68 L95.79,236.12 L96.60,235.57 L97.40,235.01 L98.20,234.46 L99.01,233.90 L99.81,233.35 L100.62,232.79 L101.42,232.24 L102.22,231.68 L103.02,231.12 L103.83,230.56 L104.63,230.00 L105.43,229.44 L106.23,228.88 L107.03,228.32 L107.83,227.76 L108.63,227.21 L109.43,226.64 L110.23,226.08 L111.04,225.52 L111.84,224.96 L112.64,224.40 L113.44,223.84 L114.24,223.29 L115.04,222.73 L115.84,222.17 L116.64,221.61 L117.45,221.05 L118.25,220.49 L119.05,219.93 L119.85,219.38 L120.66,218.82 L121.46,218.26 L122.26,217.71 L123.07,217.15 L123.87,216.60 L124.68,216.05 L125.48,215.49 L126.29,214.94 L127.10,214.39 L127.90,213.84 L128.71,213.30 L129.52,212.75 L130.33,212.20 L131.14,211.66 L131.95,211.11 L132.76,210.57 L133.58,210.03 L134.39,209.49 L135.21,208.95 L136.02,208.41 L136.84,207.88 L137.65,207.34 L138.47,206.81 L139.29,206.27 L140.11,205.74 L140.92,205.21 L141.74,204.67 L142.56,204.14 L143.38,203.61 L144.21,203.08 L145.03,202.55 L145.85,202.02 L146.67,201.50 L147.49,200.97 L148.32,200.44 L149.14,199.92 L149.96,199.39 L150.79,198.87 L151.61,198.34 L152.44,197.82 L153.26,197.30 L154.09,196.78 L154.92,196.26 L155.74,195.73 L156.57,195.21 L157.40,194.69 L158.23,194.17 L159.06,193.66 L159.88,193.14 L160.71,192.62 L161.54,192.10 L162.37,191.59 L163.20,191.07 L164.03,190.56 L164.86,190.04 L165.69,189.53 L166.52,189.01 L167.36,188.50 L168.19,187.99 L169.02,187.47 L169.85,186.96 L170.68,186.45 L171.51,185.94 L172.35,185.43 L173.18,184.91 L174.01,184.40 L174.85,183.89 L175.68,183.38 L176.51,182.88 L177.35,182.37 L178.18,181.86 L179.01,181.35 L179.85,180.84 L180.68,180.33 L181.52,179.83 L182.35,179.32 L183.19,178.81 L184.02,178.31 L184.86,177.80 L185.70,177.29 L186.53,176.79 L187.37,176.29 L188.21,175.78 L189.05,175.28 L189.88,174.78 L190.72,174.27 L191.56,173.77 L192.40,173.27 L193.24,172.77 L194.08,172.27 L194.92,171.77 L195.76,171.27 L196.60,170.77 L197.44,170.27 L198.28,169.78 L199.12,169.28 L199.96,168.78 L200.81,168.29 L201.65,167.79 L202.49,167.30 L203.34,166.81 L204.18,166.32 L205.02,165.82 L205.87,165.33 L206.71,164.84 L207.56,164.35 L208.41,163.87 L209.25,163.38 L210.10,162.89 L210.95,162.41 L211.80,161.92 L212.64,161.44 L213.49,160.95 L214.34,160.47 L215.19,159.99 L216.04,159.51 L216.90,159.04 L217.75,158.56 L218.60,158.09 L219.46,157.62 L220.32,157.15 L221.18,156.68 L222.03,156.22 L222.89,155.75 L223.75,155.29 L224.61,154.82 L225.47,154.36 L226.33,153.90 L227.19,153.43 L228.05,152.97 L228.91,152.50 L229.77,152.04 L230.63,151.57 L231.49,151.10 L232.34,150.63 L233.20,150.16 L234.05,149.68 L234.90,149.20 L235.75,148.72 L236.60,148.23 L237.45,147.75 L238.30,147.26 L239.15,146.78 L240.00,146.29 L240.85,145.81 L241.70,145.34 L242.56,144.87 L243.42,144.41 L244.28,143.95 L245.15,143.51 L246.02,143.07 L246.89,142.63 L247.77,142.20 L248.65,141.77 L249.53,141.35 L250.41,140.92 L251.29,140.50 L252.17,140.08 L253.05,139.65 L253.93,139.23 L254.81,138.79 L255.68,138.36 L256.56,137.92 L257.43,137.48 L258.30,137.03 L259.17,136.59 L260.04,136.15 L260.91,135.71 L261.79,135.27 L262.66,134.83 L263.54,134.41 L264.42,133.99 L265.30,133.57 L266.19,133.16 L267.08,132.76 L267.97,132.36 L268.87,131.96 L269.76,131.57 L270.66,131.18 L271.55,130.79 L272.45,130.40 L273.35,130.01 L274.24,129.63 L275.14,129.24 L276.03,128.84 L276.93,128.45 L277.82,128.06 L278.72,127.67 L279.62,127.29 L280.52,126.90 L281.42,126.52 L282.32,126.15 L283.22,125.77 L284.13,125.41 L285.03,125.05 L285.94,124.69 L286.85,124.33 L287.76,123.98 L288.68,123.63 L289.59,123.28 L290.50,122.94 L291.42,122.60 L292.34,122.26 L293.26,121.93 L294.17,121.60 L295.09,121.27 L296.01,120.94 L296.93,120.61 L297.86,120.28 L298.78,119.96 L299.70,119.64 L300.63,119.32 L301.55,119.01 L302.48,118.71 L303.42,118.42 L304.35,118.13 L305.29,117.86 L306.22,117.58 L307.16,117.31 L308.11,117.03 L309.05,116.77 L310.00,116.51 L310.95,116.27 L311.90,116.05 L312.85,115.84 L313.81,115.66 L314.76,115.50 L315.73,115.36 L316.69,115.21 L317.66,115.08 L318.63,114.96 L319.60,114.84 L320.58,114.74 L321.55,114.64 L322.53,114.55 L323.50,114.47 L324.47,114.40 L325.45,114.34 L326.42,114.27 L327.40,114.20 L328.37,114.14 L329.35,114.08 L330.33,114.03 L331.30,113.98 L332.28,113.95 L333.26,113.92 L334.23,113.90 L335.21,113.90 L336.19,113.91 L337.17,113.94 L338.15,113.99 L339.13,114.05 L340.11,114.12 L341.09,114.21 L342.06,114.30 L343.03,114.41 L343.99,114.52 L344.94,114.65 L345.89,114.85 L346.84,115.13 L347.77,115.45 L348.70,115.79 L349.61,116.14 L350.50,116.50 L351.39,116.90 L352.27,117.32 L353.14,117.77 L354.01,118.23 L354.87,118.71 L355.73,119.19 L356.58,119.68 L357.43,120.16 L358.28,120.64 L359.12,121.15 L359.92,121.69 L360.69,122.28 L361.43,122.92 L362.15,123.58 L362.86,124.26 L363.56,124.96 L364.25,125.65 L364.94,126.34 L365.63,127.04 L366.31,127.74 L366.98,128.45 L367.64,129.17 L368.29,129.90 L368.94,130.64 L369.57,131.38 L370.19,132.13 L370.80,132.89 L371.41,133.66 L372.01,134.43 L372.59,135.22 L373.17,136.01 L373.74,136.80 L374.30,137.60 L374.85,138.40 L375.40,139.21 L375.94,140.03 L376.48,140.85 L377.00,141.68 L377.51,142.52 L378.00,143.36 L378.48,144.21 L378.94,145.07 L379.37,145.94 L379.79,146.81 L380.20,147.70 L380.60,148.60 L380.99,149.50 L381.36,150.40 L381.74,151.31 L382.10,152.22 L382.47,153.12 L382.83,154.03 L383.19,154.94 L383.55,155.85 L383.90,156.76 L384.24,157.67 L384.58,158.59 L384.92,159.51 L385.25,160.43 L385.58,161.35 L385.91,162.27 L386.22,163.19 L386.54,164.12 L386.85,165.04 L387.15,165.97 L387.44,166.90 L387.73,167.84 L388.02,168.77 L388.30,169.71 L388.58,170.64 L388.87,171.58 L389.15,172.51 L389.44,173.45 L389.73,174.38 L390.03,175.31 L390.33,176.24 L390.63,177.17 L390.92,178.11 L391.22,179.04 L391.51,179.97 L391.80,180.91 L392.07,181.84 L392.34,182.78 L392.60,183.72 L392.84,184.67 L393.07,185.61 L393.30,186.56 L393.51,187.51 L393.72,188.47 L393.92,189.42 L394.12,190.38 L394.31,191.34 L394.50,192.30 L394.69,193.26 L394.88,194.22 L395.07,195.18 L395.26,196.14 L395.46,197.09 L395.66,198.05 L395.86,199.01 L396.08,199.96 L396.30,200.91 L396.53,201.86 L396.77,202.81 L397.02,203.75 L397.27,204.70 L397.52,205.64 L397.78,206.58 L398.04,207.53 L398.30,208.47 L398.55,209.41 L398.80,210.36 L399.05,211.31 L399.28,212.25 L399.51,213.20 L399.72,214.15 L399.93,215.11 L400.12,216.06 L400.32,217.02 L400.50,217.98 L400.68,218.94 L400.86,219.90 L401.03,220.86 L401.20,221.82 L401.37,222.78 L401.53,223.75 L401.69,224.71 L401.86,225.68 L402.02,226.64 L402.18,227.60 L402.34,228.57 L402.51,229.53 L402.67,230.50 L402.84,231.46 L403.01,232.42 L403.19,233.38 L403.36,234.34 L403.55,235.30 L403.74,236.26 L403.93,237.22 L404.12,238.18 L404.31,239.14 L404.50,240.10 L404.69,241.05 L404.87,242.01 L405.05,242.97 L405.22,243.94 L405.38,244.90 L405.54,245.86 L405.70,246.83 L405.86,247.79 L406.01,248.75 L406.16,249.72 L406.31,250.69 L406.45,251.65 L406.59,252.62 L406.73,253.59 L406.87,254.55 L407.00,255.52 L407.13,256.49 L407.26,257.46 L407.38,258.43 L407.50,259.40" stroke="#ff0000" stroke-dasharray="4.1 1.5 1 1.5"/>
<path d="M62.00,259.40 L62.74,258.96 L63.48,258.52 L64.22,258.08 L64.96,257.63 L65.70,257.19 L66.44,256.75 L67.18,256.31 L67.92,255.87 L68.66,255.43 L69.40,254.99 L70.14,254.55 L70.88,254.11 L71.62,253.67 L72.36,253.23 L73.10,252.79 L73.84,252.35 L74.58,251.91 L75.32,251.47 L76.06,251.03 L76.80,250.59 L77.54,250.15 L78.28,249.72 L79.02,249.28 L79.76,248.84 L80.50,248.40 L81.24,247.96 L81.99,247.52 L82.73,247.09 L83.47,246.65 L84.21,246.21 L84.95,245.77 L85.69,245.33 L86.43,244.90 L87.18,244.46 L87.92,244.02 L88.66,243.59 L89.40,243.15 L90.14,242.71 L90.89,242.28 L91.63,241.84 L92.37,241.40 L93.11,240.97 L93.86,240.53 L94.60,240.09 L95.34,239.66 L96.08,239.22 L96.83,238.79 L97.57,238.35 L98.31,237.92 L99.05,237.48 L99.80,237.05 L100.54,236.61 L101.28,236.17 L102.02,235.74 L102.77,235.30 L103.51,234.87 L104.25,234.43 L104.99,233.99 L105.74,233.56 L106.48,233.12 L107.22,232.68 L107.96,232.25 L108.71,231.81 L109.45,231.37 L110.19,230.94 L110.93,230.50 L111.68,230.06 L112.42,229.63 L113.16,229.19 L113.90,228.76 L114.65,228.32 L115.39,227.89 L116.13,227.45 L116.88,227.02 L117.62,226.58 L118.36,226.15 L119.11,225.72 L119.85,225.28 L120.60,224.85 L121.34,224.42 L122.09,223.99 L122.83,223.56 L123.58,223.12 L124.32,222.69 L125.07,222.27 L125.82,221.84 L126.56,221.41 L127.31,220.98 L128.06,220.55 L128.81,220.13 L129.56,219.70 L130.30,219.28 L131.05,218.85 L131.80,218.43 L132.55,218.01 L133.30,217.59 L134.05,217.17 L134.81,216.75 L135.56,216.33 L136.31,215.91 L137.06,215.49 L137.81,215.07 L138.57,214.65 L139.32,214.23 L140.07,213.82 L140.82,213.40 L141.58,212.98 L142.33,212.56 L143.08,212.15 L143.84,211.73 L144.59,211.31 L145.35,210.90 L146.10,210.48 L146.86,210.07 L147.61,209.65 L148.37,209.24 L149.12,208.82 L149.88,208.41 L150.63,208.00 L151.39,207.58 L152.15,207.17 L152.90,206.76 L153.66,206.35 L154.42,205.94 L155.18,205.53 L155.94,205.12 L156.69,204.72 L157.45,204.31 L158.21,203.90 L158.97,203.50 L159.73,203.09 L160.49,202.69 L161.26,202.28 L162.02,201.88 L162.78,201.48 L163.54,201.08 L164.30,200.68 L165.07,200.28 L165.83,199.88 L166.59,199.48 L167.36,199.09 L168.12,198.69 L168.89,198.30 L169.65,197.91 L170.42,197.51 L171.19,197.12 L171.95,196.73 L172.72,196.35 L173.49,195.96 L174.26,195.57 L175.03,195.19 L175.80,194.80 L176.57,194.42 L177.34,194.04 L178.11,193.66 L178.88,193.27 L179.65,192.89 L180.42,192.52 L181.20,192.14 L181.97,191.76 L182.75,191.38 L183.52,191.01 L184.29,190.63 L185.07,190.26 L185.85,189.88 L186.62,189.51 L187.40,189.14 L188.18,188.77 L188.95,188.40 L189.73,188.03 L190.51,187.66 L191.29,187.29 L192.07,186.92 L192.85,186.55 L193.63,186.19 L194.41,185.82 L195.19,185.46 L195.97,185.09 L196.75,184.73 L197.53,184.37 L198.31,184.01 L199.10,183.65 L199.88,183.29 L200.66,182.93 L201.45,182.57 L202.23,182.21 L203.01,181.85 L203.80,181.50 L204.58,181.14 L205.37,180.79 L206.15,180.43 L206.94,180.08 L207.72,179.73 L208.51,179.37 L209.29,179.02 L210.08,178.67 L210.87,178.32 L211.65,177.97 L212.44,177.63 L213.23,177.28 L214.02,176.93 L214.80,176.59 L215.59,176.24 L216.38,175.89 L217.17,175.55 L217.96,175.21 L218.75,174.86 L219.54,174.52 L220.33,174.17 L221.12,173.83 L221.91,173.49 L222.70,173.15 L223.49,172.81 L224.28,172.47 L225.07,172.13 L225.87,171.79 L226.66,171.45 L227.45,171.12 L228.25,170.78 L229.04,170.45 L229.83,170.11 L230.63,169.78 L231.42,169.45 L232.22,169.12 L233.02,168.79 L233.81,168.47 L234.61,168.14 L235.41,167.82 L236.21,167.50 L237.01,167.18 L237.81,166.86 L238.61,166.54 L239.41,166.23 L240.21,165.91 L241.01,165.60 L241.82,165.29 L242.62,164.98 L243.42,164.68 L244.23,164.38 L245.04,164.08 L245.85,163.79 L246.66,163.50 L247.47,163.21 L248.28,162.93 L249.10,162.65 L249.91,162.37 L250.73,162.09 L251.54,161.81 L252.36,161.53 L253.17,161.25 L253.98,160.96 L254.79,160.67 L255.60,160.38 L256.41,160.08 L257.22,159.77 L258.02,159.46 L258.83,159.15 L259.63,158.84 L260.44,158.53 L261.24,158.23 L262.05,157.94 L262.86,157.65 L263.68,157.38 L264.50,157.13 L265.32,156.89 L266.15,156.66 L266.98,156.44 L267.81,156.22 L268.65,156.01 L269.49,155.81 L270.33,155.61 L271.17,155.41 L272.01,155.22 L272.85,155.03 L273.69,154.84 L274.53,154.65 L275.37,154.46 L276.21,154.27 L277.05,154.07 L277.89,153.88 L278.73,153.70 L279.57,153.52 L280.42,153.34 L281.26,153.17 L282.11,153.01 L282.95,152.86 L283.80,152.72 L284.65,152.58 L285.50,152.46 L286.35,152.33 L287.21,152.21 L288.06,152.10 L288.91,151.99 L289.77,151.88 L290.62,151.78 L291.48,151.68 L292.34,151.58 L293.19,151.49 L294.05,151.40 L294.91,151.31 L295.76,151.22 L296.62,151.13 L297.48,151.03 L298.33,150.94 L299.19,150.84 L300.05,150.76 L300.91,150.68 L301.77,150.61 L302.63,150.56 L303.48,150.52 L304.34,150.50 L305.20,150.50 L306.06,150.51 L306.93,150.52 L307.79,150.54 L308.65,150.56 L309.51,150.59 L310.37,150.62 L311.23,150.66 L312.09,150.69 L312.95,150.73 L313.81,150.78 L314.67,150.82 L315.53,150.88 L316.38,150.96 L317.24,151.06 L318.10,151.16 L318.95,151.28 L319.81,151.42 L320.66,151.55 L321.51,151.70 L322.36,151.85 L323.20,152.00 L324.05,152.15 L324.89,152.32 L325.73,152.49 L326.58,152.68 L327.42,152.87 L328.26,153.08 L329.10,153.30 L329.93,153.52 L330.77,153.76 L331.59,154.01 L332.42,154.26 L333.24,154.52 L334.05,154.78 L334.86,155.06 L335.67,155.34 L336.47,155.64 L337.27,155.95 L338.07,156.27 L338.87,156.61 L339.66,156.96 L340.45,157.33 L341.24,157.70 L342.02,158.08 L342.79,158.48 L343.56,158.88 L344.31,159.29 L345.07,159.71 L345.81,160.13 L346.54,160.57 L347.27,161.01 L347.99,161.47 L348.70,161.96 L349.40,162.45 L350.10,162.97 L350.79,163.49 L351.47,164.03 L352.15,164.58 L352.81,165.13 L353.47,165.69 L354.12,166.25 L354.76,166.81 L355.39,167.39 L356.01,167.99 L356.62,168.60 L357.22,169.22 L357.82,169.84 L358.42,170.47 L359.01,171.09 L359.61,171.71 L360.22,172.32 L360.84,172.92 L361.47,173.52 L362.11,174.11 L362.74,174.70 L363.38,175.29 L364.01,175.88 L364.63,176.49 L365.23,177.10 L365.81,177.73 L366.37,178.37 L366.90,179.03 L367.40,179.72 L367.87,180.44 L368.32,181.18 L368.77,181.92 L369.22,182.66 L369.69,183.39 L370.16,184.11 L370.63,184.83 L371.10,185.55 L371.57,186.27 L372.04,186.99 L372.51,187.71 L372.99,188.43 L373.46,189.15 L373.93,189.87 L374.41,190.58 L374.89,191.30 L375.37,192.02 L375.85,192.73 L376.33,193.45 L376.81,194.16 L377.30,194.87 L377.80,195.57 L378.30,196.27 L378.81,196.97 L379.32,197.67 L379.82,198.37 L380.33,199.07 L380.83,199.77 L381.32,200.48 L381.81,201.19 L382.28,201.91 L382.74,202.63 L383.18,203.36 L383.61,204.10 L384.02,204.85 L384.43,205.61 L384.83,206.37 L385.22,207.13 L385.61,207.90 L385.99,208.68 L386.37,209.45 L386.74,210.23 L387.11,211.01 L387.48,211.80 L387.85,212.58 L388.22,213.36 L388.59,214.14 L388.96,214.91 L389.33,215.69 L389.71,216.46 L390.08,217.24 L390.46,218.02 L390.83,218.79 L391.20,219.57 L391.57,220.35 L391.95,221.12 L392.32,221.90 L392.68,222.68 L393.05,223.46 L393.41,224.24 L393.77,225.02 L394.13,225.81 L394.49,226.59 L394.84,227.38 L395.19,228.16 L395.53,228.95 L395.88,229.74 L396.21,230.53 L396.55,231.32 L396.87,232.12 L397.20,232.92 L397.52,233.71 L397.84,234.51 L398.15,235.32 L398.46,236.12 L398.77,236.92 L399.08,237.73 L399.38,238.53 L399.69,239.34 L399.99,240.14 L400.29,240.95 L400.60,241.76 L400.90,242.56 L401.21,243.37 L401.51,244.18 L401.82,244.98 L402.13,245.78 L402.44,246.59 L402.75,247.39 L403.07,248.19 L403.38,248.99 L403.70,249.79 L404.01,250.59 L404.33,251.40 L404.64,252.20 L404.96,253.00 L405.28,253.80 L405.59,254.60 L405.91,255.40 L406.23,256.20 L406.55,257.00 L406.86,257.80 L407.18,258.60 L407.50,259.40" stroke="#0000ff" stroke-dasharray="4.1 1.5 1 1.5"/>
<path d="M62.00,259.40 L63.16,258.91 L64.31,258.42 L65.47,257.94 L66.62,257.46 L67.78,256.97 L68.93,256.49 L70.09,256.02 L71.24,255.54 L72.40,255.07 L73.56,254.60 L74.71,254.13 L75.87,253.66 L77.02,253.19 L78.18,252.73 L79.33,252.27 L80.49,251.81 L81.64,251.35 L82.80,250.89 L83.95,250.44 L85.11,249.99 L86.27,249.54 L87.42,249.09 L88.58,248.65 L89.73,248.20 L90.89,247.76 L92.04,247.32 L93.20,246.89 L94.35,246.45 L95.51,246.02 L96.67,245.59 L97.82,245.17 L98.98,244.74 L100.13,244.31 L101.29,243.89 L102.44,243.46 L103.60,243.03 L104.75,242.61 L105.91,242.18 L107.07,241.76 L108.22,241.33 L109.38,240.91 L110.53,240.49 L111.69,240.07 L112.84,239.65 L114.00,239.24 L115.15,238.82 L116.31,238.42 L117.46,238.01 L118.62,237.61 L119.78,237.21 L120.93,236.81 L122.09,236.42 L123.24,236.03 L124.40,235.65 L125.55,235.27 L126.71,234.90 L127.86,234.53 L129.02,234.17 L130.18,233.82 L131.33,233.47 L132.49,233.12 L133.64,232.79 L134.80,232.46 L135.95,232.13 L137.11,231.82 L138.26,231.52 L139.42,231.22 L140.58,230.93 L141.73,230.64 L142.89,230.36 L144.04,230.08 L145.20,229.81 L146.35,229.54 L147.51,229.27 L148.66,229.00 L149.82,228.73 L150.97,228.45 L152.13,228.18 L153.29,227.92 L154.44,227.65 L155.60,227.38 L156.75,227.12 L157.91,226.87 L159.06,226.61 L160.22,226.36 L161.37,226.12 L162.53,225.88 L163.69,225.64 L164.84,225.41 L166.00,225.19 L167.15,224.97 L168.31,224.75 L169.46,224.53 L170.62,224.32 L171.77,224.11 L172.93,223.91 L174.09,223.71 L175.24,223.51 L176.40,223.32 L177.55,223.13 L178.71,222.95 L179.86,222.77 L181.02,222.59 L182.17,222.40 L183.33,222.22 L184.48,222.04 L185.64,221.87 L186.80,221.69 L187.95,221.53 L189.11,221.37 L190.26,221.22 L191.42,221.07 L192.57,220.94 L193.73,220.82 L194.88,220.71 L196.04,220.61 L197.20,220.51 L198.35,220.41 L199.51,220.31 L200.66,220.22 L201.82,220.13 L202.97,220.05 L204.13,219.97 L205.28,219.91 L206.44,219.85 L207.60,219.80 L208.75,219.77 L209.91,219.74 L211.06,219.72 L212.22,219.70 L213.37,219.69 L214.53,219.67 L215.68,219.65 L216.84,219.64 L217.99,219.63 L219.15,219.62 L220.31,219.61 L221.46,219.61 L222.62,219.60 L223.77,219.60 L224.93,219.60 L226.08,219.61 L227.24,219.63 L228.39,219.65 L229.55,219.68 L230.71,219.71 L231.86,219.75 L233.02,219.79 L234.17,219.83 L235.33,219.88 L236.48,219.92 L237.64,219.97 L238.79,220.02 L239.95,220.07 L241.11,220.13 L242.26,220.20 L243.42,220.28 L244.57,220.36 L245.73,220.45 L246.88,220.54 L248.04,220.64 L249.19,220.74 L250.35,220.85 L251.51,220.96 L252.66,221.07 L253.82,221.18 L254.97,221.30 L256.13,221.42 L257.28,221.55 L258.44,221.69 L259.59,221.84 L260.75,222.00 L261.90,222.16 L263.06,222.33 L264.22,222.50 L265.37,222.67 L266.53,222.85 L267.68,223.02 L268.84,223.20 L269.99,223.37 L271.15,223.55 L272.30,223.73 L273.46,223.92 L274.62,224.10 L275.77,224.29 L276.93,224.48 L278.08,224.68 L279.24,224.87 L280.39,225.07 L281.55,225.28 L282.70,225.48 L283.86,225.69 L285.02,225.91 L286.17,226.12 L287.33,226.35 L288.48,226.57 L289.64,226.81 L290.79,227.04 L291.95,227.28 L293.10,227.51 L294.26,227.75 L295.41,227.99 L296.57,228.23 L297.73,228.46 L298.88,228.70 L300.04,228.93 L301.19,229.16 L302.35,229.38 L303.50,229.61 L304.66,229.84 L305.81,230.07 L306.97,230.30 L308.13,230.53 L309.28,230.76 L310.44,231.00 L311.59,231.25 L312.75,231.49 L313.90,231.75 L315.06,232.01 L316.21,232.29 L317.37,232.57 L318.53,232.85 L319.68,233.15 L320.84,233.45 L321.99,233.75 L323.15,234.06 L324.30,234.38 L325.46,234.69 L326.61,235.01 L327.77,235.33 L328.92,235.64 L330.08,235.96 L331.24,236.28 L332.39,236.60 L333.55,236.93 L334.70,237.26 L335.86,237.59 L337.01,237.92 L338.17,238.25 L339.32,238.59 L340.48,238.92 L341.64,239.25 L342.79,239.58 L343.95,239.91 L345.10,240.24 L346.26,240.57 L347.41,240.90 L348.57,241.23 L349.72,241.56 L350.88,241.89 L352.04,242.21 L353.19,242.54 L354.35,242.87 L355.50,243.19 L356.66,243.52 L357.81,243.84 L358.97,244.16 L360.12,244.47 L361.28,244.78 L362.43,245.09 L363.59,245.40 L364.75,245.73 L365.90,246.06 L367.06,246.41 L368.21,246.76 L369.37,247.12 L370.52,247.48 L371.68,247.84 L372.83,248.21 L373.99,248.57 L375.15,248.93 L376.30,249.29 L377.46,249.64 L378.61,249.98 L379.77,250.33 L380.92,250.67 L382.08,251.01 L383.23,251.35 L384.39,251.69 L385.55,252.03 L386.70,252.37 L387.86,252.72 L389.01,253.07 L390.17,253.43 L391.32,253.78 L392.48,254.13 L393.63,254.48 L394.79,254.83 L395.94,255.19 L397.10,255.56 L398.26,255.93 L399.41,256.32 L400.57,256.71 L401.72,257.12 L402.88,257.55 L404.03,258.00 L405.19,258.45 L406.34,258.92 L407.50,259.40" stroke="#ffd700" stroke-dasharray="4.1 1.5 1 1.5"/>
<path d="M227.2,33.25 H248.8" stroke="#ff0000"/>
<path d="M227.2,45.90 H248.8" stroke="#0000ff"/>
<path d="M227.2,58.55 H248.8" stroke="#ffd700"/>
<path d="M227.2,71.20 H248.8" stroke="#ff0000" stroke-dasharray="2.9 3.0"/>
<path d="M227.2,83.85 H248.8" stroke="#0000ff" stroke-dasharray="2.9 3.0"/>
<path d="M227.2,96.50 H248.8" stroke="#ffd700" stroke-dasharray="2.9 3.0"/>
<path d="M227.2,109.15 H248.8" stroke="#ff0000" stroke-dasharray="4.1 1.5 1 1.5"/>
<path d="M227.2,121.80 H248.8" stroke="#0000ff" stroke-dasharray="4.1 1.5 1 1.5"/>
<path d="M227.2,134.45 H248.8" stroke="#ffd700" stroke-dasharray="4.1 1.5 1 1.5"/>
</g>
<g font-family="Liberation Serif, serif" font-size="14.5" fill="#000">
<text transform="translate(53.6,265.45) scale(1,1.07)" text-anchor="end" font-size="15.1">0</text>
<text transform="translate(53.6,216.95) scale(1,1.07)" text-anchor="end" font-size="15.1">0.1</text>
<text transform="translate(53.6,168.45) scale(1,1.07)" text-anchor="end" font-size="15.1">0.2</text>
<text transform="translate(53.6,119.95) scale(1,1.07)" text-anchor="end" font-size="15.1">0.3</text>
<text transform="translate(53.6,71.45) scale(1,1.07)" text-anchor="end" font-size="15.1">0.4</text>
<text transform="translate(53.6,23.45) scale(1,1.07)" text-anchor="end" font-size="15.1">0.5</text>
<text transform="translate(63.80,281.65) scale(1,1.05)" text-anchor="middle" font-size="15.3">0</text>
<text transform="translate(133.10,281.65) scale(1,1.05)" text-anchor="middle" font-size="15.3">0.2</text>
<text transform="translate(202.30,281.65) scale(1,1.05)" text-anchor="middle" font-size="15.3">0.4</text>
<text transform="translate(271.50,281.65) scale(1,1.05)" text-anchor="middle" font-size="15.3">0.6</text>
<text transform="translate(340.70,281.65) scale(1,1.05)" text-anchor="middle" font-size="15.3">0.8</text>
<text transform="translate(409.20,281.65) scale(1,1.05)" text-anchor="middle" font-size="15.3">1</text>
<text x="220" y="38.90" text-anchor="end">Chiral Limit, T/T<tspan font-size="11.60" dy="3.5">c</tspan><tspan dy="-3.5">=1.4</tspan></text>
<text x="220" y="51.55" text-anchor="end">1.2</text>
<text x="220" y="64.20" text-anchor="end">1.0</text>
<text x="220" y="76.85" text-anchor="end">Fourier, T/T<tspan font-size="11.60" dy="3.5">c</tspan><tspan dy="-3.5">=1.4</tspan></text>
<text x="220" y="89.50" text-anchor="end">1.2</text>
<text x="220" y="102.15" text-anchor="end">1.0</text>
<text x="220" y="114.80" text-anchor="end">CEM, T/T<tspan font-size="11.60" dy="3.5">c</tspan><tspan dy="-3.5">=1.4</tspan></text>
<text x="220" y="127.45" text-anchor="end">1.2</text>
<text x="220" y="140.10" text-anchor="end">1.0</text>
<text transform="translate(220.7,305.9) scale(1,0.92)" font-size="16.0">θ</text>
<text x="228.6" y="310.2" font-size="12.80">B</text>
<text x="236.4" y="305.9" font-size="16.0">/</text>
<text x="241.0" y="305.9" font-size="14.8">π</text>
<g transform="translate(21,138.5) rotate(-90)" font-size="16.0"><text x="-20.4" y="0">Im[χ</text><text x="11.3" y="2.5" font-size="12.80" text-anchor="middle">1</text><text x="13.0" y="-6.3" font-size="12.80" text-anchor="middle">B</text><text x="16.4" y="0">]</text></g>
</g>
</svg>
</body></html>
